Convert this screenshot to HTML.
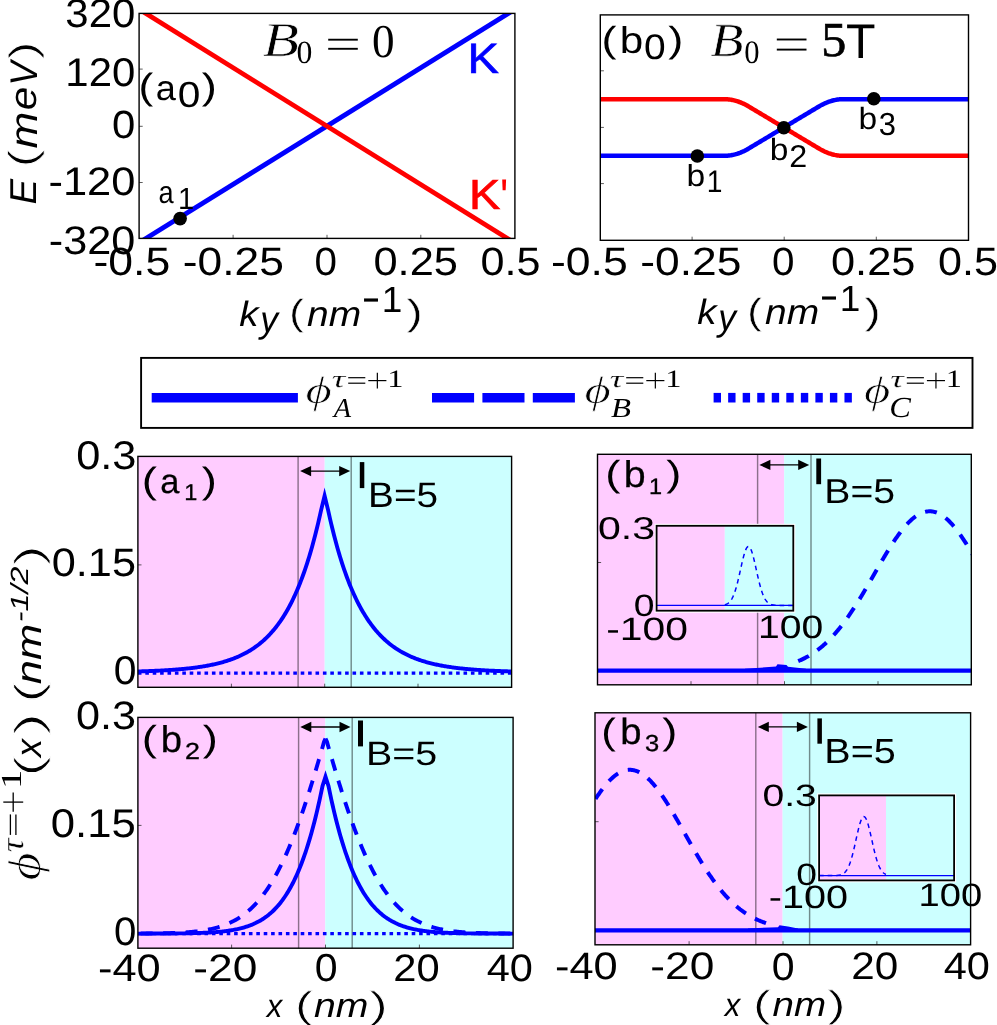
<!DOCTYPE html>
<html><head><meta charset="utf-8"><title>figure</title>
<style>
html,body{margin:0;padding:0;background:#fff;}
body{width:997px;height:1025px;overflow:hidden;font-family:"Liberation Sans",sans-serif;}
svg{display:block;will-change:transform;}
</style></head>
<body>
<svg width="997" height="1025" viewBox="0 0 997 1025" text-rendering="geometricPrecision">
<rect width="997" height="1025" fill="#fff"/>
<clipPath id="c1"><rect x="139.10" y="13.40" width="375.80" height="225.00"/></clipPath>
<line x1="134.00" y1="245.85" x2="520.30" y2="5.95" stroke="#0000ff" stroke-width="4.8" clip-path="url(#c1)"/>
<line x1="133.80" y1="5.93" x2="519.40" y2="245.87" stroke="#ff0000" stroke-width="4.8" clip-path="url(#c1)"/>
<line x1="233.10" y1="238.40" x2="233.10" y2="234.80" stroke="#333" stroke-width="0.8" />
<line x1="327.00" y1="238.40" x2="327.00" y2="234.80" stroke="#333" stroke-width="0.8" />
<line x1="420.80" y1="238.40" x2="420.80" y2="234.80" stroke="#333" stroke-width="0.8" />
<line x1="139.10" y1="69.10" x2="142.70" y2="69.10" stroke="#333" stroke-width="0.8" />
<line x1="139.10" y1="126.30" x2="142.70" y2="126.30" stroke="#333" stroke-width="0.8" />
<line x1="139.10" y1="182.50" x2="142.70" y2="182.50" stroke="#333" stroke-width="0.8" />
<rect x="139.10" y="13.40" width="375.80" height="225.00" fill="none" stroke="#000" stroke-width="1.4" />
<circle cx="180.1" cy="218.6" r="6.8" fill="#000"/>
<text transform="matrix(41.9497 0 0 40.1413 65.327 27.399)" font-family='"Liberation Sans", sans-serif' font-style="normal" font-size="1" fill="#000">320</text>
<text transform="matrix(41.9324 0 0 40.1413 65.355 86.399)" font-family='"Liberation Sans", sans-serif' font-style="normal" font-size="1" fill="#000">120</text>
<text transform="matrix(41.8848 0 0 39.2933 111.925 138.007)" font-family='"Liberation Sans", sans-serif' font-style="normal" font-size="1" fill="#000">0</text>
<text transform="matrix(43.4465 0 0 39.8587 48.445 195.201)" font-family='"Liberation Sans", sans-serif' font-style="normal" font-size="1" fill="#000">-120</text>
<text transform="matrix(43.2376 0 0 39.8587 48.854 253.901)" font-family='"Liberation Sans", sans-serif' font-style="normal" font-size="1" fill="#000">-320</text>
<text transform="matrix(44.5260 0 0 39.5760 93.496 275.404)" font-family='"Liberation Sans", sans-serif' font-style="normal" font-size="1" fill="#000">-0.5</text>
<text transform="matrix(44.3379 0 0 39.5760 182.805 275.404)" font-family='"Liberation Sans", sans-serif' font-style="normal" font-size="1" fill="#000">-0.25</text>
<text transform="matrix(40.4188 0 0 39.5760 314.383 275.404)" font-family='"Liberation Sans", sans-serif' font-style="normal" font-size="1" fill="#000">0</text>
<text transform="matrix(43.3826 0 0 39.5760 373.465 275.404)" font-family='"Liberation Sans", sans-serif' font-style="normal" font-size="1" fill="#000">0.25</text>
<text transform="matrix(43.1358 0 0 39.5760 480.575 275.404)" font-family='"Liberation Sans", sans-serif' font-style="normal" font-size="1" fill="#000">0.5</text>
<text transform="matrix(44.5260 0 0 39.5760 550.996 274.804)" font-family='"Liberation Sans", sans-serif' font-style="normal" font-size="1" fill="#000">-0.5</text>
<text transform="matrix(44.3379 0 0 39.5760 640.305 274.804)" font-family='"Liberation Sans", sans-serif' font-style="normal" font-size="1" fill="#000">-0.25</text>
<text transform="matrix(40.4188 0 0 39.5760 771.883 274.804)" font-family='"Liberation Sans", sans-serif' font-style="normal" font-size="1" fill="#000">0</text>
<text transform="matrix(43.3826 0 0 39.5760 830.965 274.804)" font-family='"Liberation Sans", sans-serif' font-style="normal" font-size="1" fill="#000">0.25</text>
<text transform="matrix(43.1358 0 0 39.5760 938.075 274.804)" font-family='"Liberation Sans", sans-serif' font-style="normal" font-size="1" fill="#000">0.5</text>
<text transform="matrix(38.4689 0 0 35.3103 239.327 325.700)" font-family='"Liberation Sans", sans-serif' font-style="italic" font-size="1" fill="#000">k</text>
<text transform="matrix(35.5556 0 0 36.8707 260.144 331.549)" font-family='"Liberation Sans", sans-serif' font-style="italic" font-size="1" fill="#000">y</text>
<text transform="matrix(43.4783 0 0 36.3933 289.222 325.267)" font-family='"Liberation Sans", sans-serif' font-style="normal" font-size="1" fill="#000" stroke="#fff" stroke-width="0.012">(</text>
<text transform="matrix(38.9434 0 0 35.3488 307.118 325.700)" font-family='"Liberation Sans", sans-serif' font-style="italic" font-size="1" fill="#000">nm</text>
<text transform="matrix(57.1429 0 0 41.2903 361.429 310.994)" font-family='"Liberation Sans", sans-serif' font-style="normal" font-size="1" fill="#000">-</text>
<text transform="matrix(36.9942 0 0 36.5091 381.725 312.100)" font-family='"Liberation Sans", sans-serif' font-style="normal" font-size="1" fill="#000">1</text>
<text transform="matrix(47.8261 0 0 36.3933 406.854 325.267)" font-family='"Liberation Sans", sans-serif' font-style="normal" font-size="1" fill="#000" stroke="#fff" stroke-width="0.012">)</text>
<text transform="matrix(38.4689 0 0 35.3103 697.327 324.200)" font-family='"Liberation Sans", sans-serif' font-style="italic" font-size="1" fill="#000">k</text>
<text transform="matrix(35.5556 0 0 36.8707 718.144 330.049)" font-family='"Liberation Sans", sans-serif' font-style="italic" font-size="1" fill="#000">y</text>
<text transform="matrix(43.4783 0 0 36.3933 747.222 323.767)" font-family='"Liberation Sans", sans-serif' font-style="normal" font-size="1" fill="#000" stroke="#fff" stroke-width="0.012">(</text>
<text transform="matrix(38.9434 0 0 35.3488 765.118 324.200)" font-family='"Liberation Sans", sans-serif' font-style="italic" font-size="1" fill="#000">nm</text>
<text transform="matrix(57.1429 0 0 41.2903 819.429 309.494)" font-family='"Liberation Sans", sans-serif' font-style="normal" font-size="1" fill="#000">-</text>
<text transform="matrix(36.9942 0 0 36.5091 839.725 310.600)" font-family='"Liberation Sans", sans-serif' font-style="normal" font-size="1" fill="#000">1</text>
<text transform="matrix(47.8261 0 0 36.3933 864.854 323.767)" font-family='"Liberation Sans", sans-serif' font-style="normal" font-size="1" fill="#000" stroke="#fff" stroke-width="0.012">)</text>
<text transform="matrix(0 -53.8776 38.4658 0 35.803 59.143)" font-family='"Liberation Sans", sans-serif' font-style="normal" font-size="1" fill="#000" stroke="#fff" stroke-width="0.02">)</text>
<text transform="matrix(0 -36.0456 38.5455 0 36.500 85.454)" font-family='"Liberation Sans", sans-serif' font-style="italic" font-size="1" fill="#000">V</text>
<text transform="matrix(0 -42.4615 37.8082 0 36.122 110.180)" font-family='"Liberation Sans", sans-serif' font-style="italic" font-size="1" fill="#000">e</text>
<text transform="matrix(0 -44.1558 38.5116 0 36.500 148.573)" font-family='"Liberation Sans", sans-serif' font-style="italic" font-size="1" fill="#000">m</text>
<text transform="matrix(0 -53.8776 39.3425 0 35.630 167.406)" font-family='"Liberation Sans", sans-serif' font-style="normal" font-size="1" fill="#000" stroke="#fff" stroke-width="0.02">(</text>
<text transform="matrix(0 -38.3012 37.3818 0 35.700 204.449)" font-family='"Liberation Sans", sans-serif' font-style="italic" font-size="1" fill="#000">E</text>
<text transform="matrix(59.3310 0 0 48.4895 262.651 56.270)" font-family='"Liberation Serif", serif' font-style="italic" font-size="1" fill="#000" stroke="#fff" stroke-width="0.012">B</text>
<text transform="matrix(31.7647 0 0 32.2963 296.609 63.077)" font-family='"Liberation Serif", serif' font-style="normal" font-size="1" fill="#000">0</text>
<line x1="328.20" y1="39.70" x2="357.80" y2="39.70" stroke="#000" stroke-width="1.9" />
<line x1="328.20" y1="48.80" x2="357.80" y2="48.80" stroke="#000" stroke-width="1.9" />
<text transform="matrix(45.1765 0 0 46.9630 371.906 56.830)" font-family='"Liberation Serif", serif' font-style="normal" font-size="1" fill="#000">0</text>
<text transform="matrix(44.1509 0 0 36.5684 138.441 99.312)" font-family='"Liberation Sans", sans-serif' font-style="normal" font-size="1" fill="#000">(</text>
<text transform="matrix(36.1165 0 0 35.2511 155.765 100.247)" font-family='"Liberation Sans", sans-serif' font-style="normal" font-size="1" fill="#000">a</text>
<text transform="matrix(40.6283 0 0 36.3251 177.675 106.937)" font-family='"Liberation Sans", sans-serif' font-style="normal" font-size="1" fill="#000">0</text>
<text transform="matrix(45.2830 0 0 36.5684 201.860 99.312)" font-family='"Liberation Sans", sans-serif' font-style="normal" font-size="1" fill="#000">)</text>
<text transform="matrix(46.9890 0 0 42.4414 467.623 72.639)" font-family='"Liberation Sans", sans-serif' font-style="normal" font-size="1" fill="#0000ff" stroke="#0000ff" stroke-width="0.017">K</text>
<text transform="matrix(46.8193 0 0 42.0156 468.935 209.243)" font-family='"Liberation Sans", sans-serif' font-style="normal" font-size="1" fill="#ff0000" stroke="#ff0000" stroke-width="0.017">K</text>
<text transform="matrix(43.3333 0 0 50.1149 499.933 214.354)" font-family='"Liberation Sans", sans-serif' font-style="normal" font-size="1" fill="#ff0000">'</text>
<text transform="matrix(27.1845 0 0 31.5982 158.445 202.784)" font-family='"Liberation Sans", sans-serif' font-style="normal" font-size="1" fill="#000">a</text>
<text transform="matrix(29.1329 0 0 30.6909 177.915 208.600)" font-family='"Liberation Sans", sans-serif' font-style="normal" font-size="1" fill="#000">1</text>
<clipPath id="c2"><rect x="600.30" y="14.90" width="368.20" height="225.40"/></clipPath>
<path d="M600.30,99.15 L601.22,99.15 L602.15,99.15 L603.07,99.15 L603.99,99.15 L604.91,99.15 L605.84,99.15 L606.76,99.15 L607.68,99.15 L608.61,99.15 L609.53,99.15 L610.45,99.15 L611.37,99.15 L612.30,99.15 L613.22,99.15 L614.14,99.15 L615.06,99.15 L615.99,99.15 L616.91,99.15 L617.83,99.15 L618.76,99.15 L619.68,99.15 L620.60,99.15 L621.52,99.15 L622.45,99.15 L623.37,99.15 L624.29,99.15 L625.22,99.15 L626.14,99.15 L627.06,99.15 L627.98,99.15 L628.91,99.15 L629.83,99.15 L630.75,99.15 L631.68,99.15 L632.60,99.15 L633.52,99.15 L634.44,99.15 L635.37,99.15 L636.29,99.15 L637.21,99.15 L638.14,99.15 L639.06,99.15 L639.98,99.15 L640.90,99.15 L641.83,99.15 L642.75,99.15 L643.67,99.15 L644.59,99.15 L645.52,99.15 L646.44,99.15 L647.36,99.15 L648.29,99.15 L649.21,99.15 L650.13,99.15 L651.05,99.15 L651.98,99.15 L652.90,99.15 L653.82,99.15 L654.75,99.15 L655.67,99.15 L656.59,99.15 L657.51,99.15 L658.44,99.15 L659.36,99.15 L660.28,99.15 L661.21,99.15 L662.13,99.15 L663.05,99.15 L663.97,99.15 L664.90,99.15 L665.82,99.15 L666.74,99.15 L667.66,99.15 L668.59,99.15 L669.51,99.15 L670.43,99.15 L671.36,99.15 L672.28,99.15 L673.20,99.15 L674.12,99.15 L675.05,99.15 L675.97,99.15 L676.89,99.15 L677.82,99.15 L678.74,99.15 L679.66,99.15 L680.58,99.15 L681.51,99.15 L682.43,99.15 L683.35,99.15 L684.28,99.15 L685.20,99.15 L686.12,99.15 L687.04,99.15 L687.97,99.15 L688.89,99.15 L689.81,99.15 L690.74,99.15 L691.66,99.15 L692.58,99.15 L693.50,99.15 L694.43,99.15 L695.35,99.15 L696.27,99.15 L697.19,99.15 L698.12,99.15 L699.04,99.15 L699.96,99.15 L700.89,99.15 L701.81,99.15 L702.73,99.15 L703.65,99.15 L704.58,99.15 L705.50,99.15 L706.42,99.15 L707.35,99.15 L708.27,99.15 L709.19,99.15 L710.11,99.15 L711.04,99.15 L711.96,99.15 L712.88,99.15 L713.81,99.15 L714.73,99.15 L715.65,99.15 L716.57,99.15 L717.50,99.15 L718.42,99.15 L719.34,99.15 L720.26,99.15 L721.19,99.15 L722.11,99.15 L723.03,99.15 L723.96,99.15 L724.88,99.16 L725.80,99.19 L726.72,99.23 L727.65,99.30 L728.57,99.39 L729.49,99.50 L730.42,99.63 L731.34,99.79 L732.26,99.96 L733.18,100.15 L734.11,100.37 L735.03,100.60 L735.95,100.86 L736.88,101.13 L737.80,101.43 L738.72,101.75 L739.64,102.08 L740.57,102.44 L741.49,102.82 L742.41,103.22 L743.34,103.64 L744.26,104.08 L745.18,104.55 L746.10,105.03 L747.03,105.53 L747.95,106.06 L748.87,106.60 L749.79,107.15 L750.72,107.71 L751.64,108.26 L752.56,108.81 L753.49,109.36 L754.41,109.91 L755.33,110.47 L756.25,111.02 L757.18,111.57 L758.10,112.12 L759.02,112.67 L759.95,113.23 L760.87,113.78 L761.79,114.33 L762.71,114.88 L763.64,115.44 L764.56,115.99 L765.48,116.54 L766.41,117.09 L767.33,117.64 L768.25,118.20 L769.17,118.75 L770.10,119.30 L771.02,119.85 L771.94,120.40 L772.86,120.96 L773.79,121.51 L774.71,122.06 L775.63,122.61 L776.56,123.17 L777.48,123.72 L778.40,124.27 L779.32,124.82 L780.25,125.37 L781.17,125.93 L782.09,126.48 L783.02,127.03 L783.94,127.58 L784.86,128.14 L785.78,128.69 L786.71,129.24 L787.63,129.79 L788.55,130.34 L789.48,130.90 L790.40,131.45 L791.32,132.00 L792.24,132.55 L793.17,133.10 L794.09,133.66 L795.01,134.21 L795.94,134.76 L796.86,135.31 L797.78,135.87 L798.70,136.42 L799.63,136.97 L800.55,137.52 L801.47,138.07 L802.39,138.63 L803.32,139.18 L804.24,139.73 L805.16,140.28 L806.09,140.83 L807.01,141.39 L807.93,141.94 L808.85,142.49 L809.78,143.04 L810.70,143.60 L811.62,144.15 L812.55,144.70 L813.47,145.25 L814.39,145.80 L815.31,146.36 L816.24,146.91 L817.16,147.46 L818.08,148.01 L819.01,148.56 L819.93,149.10 L820.85,149.62 L821.77,150.12 L822.70,150.59 L823.62,151.05 L824.54,151.49 L825.46,151.90 L826.39,152.29 L827.31,152.67 L828.23,153.02 L829.16,153.35 L830.08,153.66 L831.00,153.95 L831.92,154.22 L832.85,154.47 L833.77,154.70 L834.69,154.91 L835.62,155.10 L836.54,155.26 L837.46,155.41 L838.38,155.53 L839.31,155.64 L840.23,155.72 L841.15,155.78 L842.08,155.83 L843.00,155.85 L843.92,155.85 L844.84,155.85 L845.77,155.85 L846.69,155.85 L847.61,155.85 L848.54,155.85 L849.46,155.85 L850.38,155.85 L851.30,155.85 L852.23,155.85 L853.15,155.85 L854.07,155.85 L854.99,155.85 L855.92,155.85 L856.84,155.85 L857.76,155.85 L858.69,155.85 L859.61,155.85 L860.53,155.85 L861.45,155.85 L862.38,155.85 L863.30,155.85 L864.22,155.85 L865.15,155.85 L866.07,155.85 L866.99,155.85 L867.91,155.85 L868.84,155.85 L869.76,155.85 L870.68,155.85 L871.61,155.85 L872.53,155.85 L873.45,155.85 L874.37,155.85 L875.30,155.85 L876.22,155.85 L877.14,155.85 L878.06,155.85 L878.99,155.85 L879.91,155.85 L880.83,155.85 L881.76,155.85 L882.68,155.85 L883.60,155.85 L884.52,155.85 L885.45,155.85 L886.37,155.85 L887.29,155.85 L888.22,155.85 L889.14,155.85 L890.06,155.85 L890.98,155.85 L891.91,155.85 L892.83,155.85 L893.75,155.85 L894.68,155.85 L895.60,155.85 L896.52,155.85 L897.44,155.85 L898.37,155.85 L899.29,155.85 L900.21,155.85 L901.14,155.85 L902.06,155.85 L902.98,155.85 L903.90,155.85 L904.83,155.85 L905.75,155.85 L906.67,155.85 L907.59,155.85 L908.52,155.85 L909.44,155.85 L910.36,155.85 L911.29,155.85 L912.21,155.85 L913.13,155.85 L914.05,155.85 L914.98,155.85 L915.90,155.85 L916.82,155.85 L917.75,155.85 L918.67,155.85 L919.59,155.85 L920.51,155.85 L921.44,155.85 L922.36,155.85 L923.28,155.85 L924.21,155.85 L925.13,155.85 L926.05,155.85 L926.97,155.85 L927.90,155.85 L928.82,155.85 L929.74,155.85 L930.66,155.85 L931.59,155.85 L932.51,155.85 L933.43,155.85 L934.36,155.85 L935.28,155.85 L936.20,155.85 L937.12,155.85 L938.05,155.85 L938.97,155.85 L939.89,155.85 L940.82,155.85 L941.74,155.85 L942.66,155.85 L943.58,155.85 L944.51,155.85 L945.43,155.85 L946.35,155.85 L947.28,155.85 L948.20,155.85 L949.12,155.85 L950.04,155.85 L950.97,155.85 L951.89,155.85 L952.81,155.85 L953.74,155.85 L954.66,155.85 L955.58,155.85 L956.50,155.85 L957.43,155.85 L958.35,155.85 L959.27,155.85 L960.19,155.85 L961.12,155.85 L962.04,155.85 L962.96,155.85 L963.89,155.85 L964.81,155.85 L965.73,155.85 L966.65,155.85 L967.58,155.85 L968.50,155.85" fill="none" stroke="#ff0000" stroke-width="4.5" stroke-linejoin="round" clip-path="url(#c2)"/>
<path d="M600.30,155.85 L601.22,155.85 L602.15,155.85 L603.07,155.85 L603.99,155.85 L604.91,155.85 L605.84,155.85 L606.76,155.85 L607.68,155.85 L608.61,155.85 L609.53,155.85 L610.45,155.85 L611.37,155.85 L612.30,155.85 L613.22,155.85 L614.14,155.85 L615.06,155.85 L615.99,155.85 L616.91,155.85 L617.83,155.85 L618.76,155.85 L619.68,155.85 L620.60,155.85 L621.52,155.85 L622.45,155.85 L623.37,155.85 L624.29,155.85 L625.22,155.85 L626.14,155.85 L627.06,155.85 L627.98,155.85 L628.91,155.85 L629.83,155.85 L630.75,155.85 L631.68,155.85 L632.60,155.85 L633.52,155.85 L634.44,155.85 L635.37,155.85 L636.29,155.85 L637.21,155.85 L638.14,155.85 L639.06,155.85 L639.98,155.85 L640.90,155.85 L641.83,155.85 L642.75,155.85 L643.67,155.85 L644.59,155.85 L645.52,155.85 L646.44,155.85 L647.36,155.85 L648.29,155.85 L649.21,155.85 L650.13,155.85 L651.05,155.85 L651.98,155.85 L652.90,155.85 L653.82,155.85 L654.75,155.85 L655.67,155.85 L656.59,155.85 L657.51,155.85 L658.44,155.85 L659.36,155.85 L660.28,155.85 L661.21,155.85 L662.13,155.85 L663.05,155.85 L663.97,155.85 L664.90,155.85 L665.82,155.85 L666.74,155.85 L667.66,155.85 L668.59,155.85 L669.51,155.85 L670.43,155.85 L671.36,155.85 L672.28,155.85 L673.20,155.85 L674.12,155.85 L675.05,155.85 L675.97,155.85 L676.89,155.85 L677.82,155.85 L678.74,155.85 L679.66,155.85 L680.58,155.85 L681.51,155.85 L682.43,155.85 L683.35,155.85 L684.28,155.85 L685.20,155.85 L686.12,155.85 L687.04,155.85 L687.97,155.85 L688.89,155.85 L689.81,155.85 L690.74,155.85 L691.66,155.85 L692.58,155.85 L693.50,155.85 L694.43,155.85 L695.35,155.85 L696.27,155.85 L697.19,155.85 L698.12,155.85 L699.04,155.85 L699.96,155.85 L700.89,155.85 L701.81,155.85 L702.73,155.85 L703.65,155.85 L704.58,155.85 L705.50,155.85 L706.42,155.85 L707.35,155.85 L708.27,155.85 L709.19,155.85 L710.11,155.85 L711.04,155.85 L711.96,155.85 L712.88,155.85 L713.81,155.85 L714.73,155.85 L715.65,155.85 L716.57,155.85 L717.50,155.85 L718.42,155.85 L719.34,155.85 L720.26,155.85 L721.19,155.85 L722.11,155.85 L723.03,155.85 L723.96,155.85 L724.88,155.84 L725.80,155.81 L726.72,155.77 L727.65,155.70 L728.57,155.61 L729.49,155.50 L730.42,155.37 L731.34,155.21 L732.26,155.04 L733.18,154.85 L734.11,154.63 L735.03,154.40 L735.95,154.14 L736.88,153.87 L737.80,153.57 L738.72,153.25 L739.64,152.92 L740.57,152.56 L741.49,152.18 L742.41,151.78 L743.34,151.36 L744.26,150.92 L745.18,150.45 L746.10,149.97 L747.03,149.47 L747.95,148.94 L748.87,148.40 L749.79,147.85 L750.72,147.29 L751.64,146.74 L752.56,146.19 L753.49,145.64 L754.41,145.09 L755.33,144.53 L756.25,143.98 L757.18,143.43 L758.10,142.88 L759.02,142.33 L759.95,141.77 L760.87,141.22 L761.79,140.67 L762.71,140.12 L763.64,139.56 L764.56,139.01 L765.48,138.46 L766.41,137.91 L767.33,137.36 L768.25,136.80 L769.17,136.25 L770.10,135.70 L771.02,135.15 L771.94,134.60 L772.86,134.04 L773.79,133.49 L774.71,132.94 L775.63,132.39 L776.56,131.83 L777.48,131.28 L778.40,130.73 L779.32,130.18 L780.25,129.63 L781.17,129.07 L782.09,128.52 L783.02,127.97 L783.94,127.42 L784.86,126.86 L785.78,126.31 L786.71,125.76 L787.63,125.21 L788.55,124.66 L789.48,124.10 L790.40,123.55 L791.32,123.00 L792.24,122.45 L793.17,121.90 L794.09,121.34 L795.01,120.79 L795.94,120.24 L796.86,119.69 L797.78,119.13 L798.70,118.58 L799.63,118.03 L800.55,117.48 L801.47,116.93 L802.39,116.37 L803.32,115.82 L804.24,115.27 L805.16,114.72 L806.09,114.17 L807.01,113.61 L807.93,113.06 L808.85,112.51 L809.78,111.96 L810.70,111.40 L811.62,110.85 L812.55,110.30 L813.47,109.75 L814.39,109.20 L815.31,108.64 L816.24,108.09 L817.16,107.54 L818.08,106.99 L819.01,106.44 L819.93,105.90 L820.85,105.38 L821.77,104.88 L822.70,104.41 L823.62,103.95 L824.54,103.51 L825.46,103.10 L826.39,102.71 L827.31,102.33 L828.23,101.98 L829.16,101.65 L830.08,101.34 L831.00,101.05 L831.92,100.78 L832.85,100.53 L833.77,100.30 L834.69,100.09 L835.62,99.90 L836.54,99.74 L837.46,99.59 L838.38,99.47 L839.31,99.36 L840.23,99.28 L841.15,99.22 L842.08,99.17 L843.00,99.15 L843.92,99.15 L844.84,99.15 L845.77,99.15 L846.69,99.15 L847.61,99.15 L848.54,99.15 L849.46,99.15 L850.38,99.15 L851.30,99.15 L852.23,99.15 L853.15,99.15 L854.07,99.15 L854.99,99.15 L855.92,99.15 L856.84,99.15 L857.76,99.15 L858.69,99.15 L859.61,99.15 L860.53,99.15 L861.45,99.15 L862.38,99.15 L863.30,99.15 L864.22,99.15 L865.15,99.15 L866.07,99.15 L866.99,99.15 L867.91,99.15 L868.84,99.15 L869.76,99.15 L870.68,99.15 L871.61,99.15 L872.53,99.15 L873.45,99.15 L874.37,99.15 L875.30,99.15 L876.22,99.15 L877.14,99.15 L878.06,99.15 L878.99,99.15 L879.91,99.15 L880.83,99.15 L881.76,99.15 L882.68,99.15 L883.60,99.15 L884.52,99.15 L885.45,99.15 L886.37,99.15 L887.29,99.15 L888.22,99.15 L889.14,99.15 L890.06,99.15 L890.98,99.15 L891.91,99.15 L892.83,99.15 L893.75,99.15 L894.68,99.15 L895.60,99.15 L896.52,99.15 L897.44,99.15 L898.37,99.15 L899.29,99.15 L900.21,99.15 L901.14,99.15 L902.06,99.15 L902.98,99.15 L903.90,99.15 L904.83,99.15 L905.75,99.15 L906.67,99.15 L907.59,99.15 L908.52,99.15 L909.44,99.15 L910.36,99.15 L911.29,99.15 L912.21,99.15 L913.13,99.15 L914.05,99.15 L914.98,99.15 L915.90,99.15 L916.82,99.15 L917.75,99.15 L918.67,99.15 L919.59,99.15 L920.51,99.15 L921.44,99.15 L922.36,99.15 L923.28,99.15 L924.21,99.15 L925.13,99.15 L926.05,99.15 L926.97,99.15 L927.90,99.15 L928.82,99.15 L929.74,99.15 L930.66,99.15 L931.59,99.15 L932.51,99.15 L933.43,99.15 L934.36,99.15 L935.28,99.15 L936.20,99.15 L937.12,99.15 L938.05,99.15 L938.97,99.15 L939.89,99.15 L940.82,99.15 L941.74,99.15 L942.66,99.15 L943.58,99.15 L944.51,99.15 L945.43,99.15 L946.35,99.15 L947.28,99.15 L948.20,99.15 L949.12,99.15 L950.04,99.15 L950.97,99.15 L951.89,99.15 L952.81,99.15 L953.74,99.15 L954.66,99.15 L955.58,99.15 L956.50,99.15 L957.43,99.15 L958.35,99.15 L959.27,99.15 L960.19,99.15 L961.12,99.15 L962.04,99.15 L962.96,99.15 L963.89,99.15 L964.81,99.15 L965.73,99.15 L966.65,99.15 L967.58,99.15 L968.50,99.15" fill="none" stroke="#0000ff" stroke-width="4.5" stroke-linejoin="round" clip-path="url(#c2)"/>
<line x1="692.10" y1="240.30" x2="692.10" y2="236.70" stroke="#333" stroke-width="0.8" />
<line x1="784.20" y1="240.30" x2="784.20" y2="236.70" stroke="#333" stroke-width="0.8" />
<line x1="876.30" y1="240.30" x2="876.30" y2="236.70" stroke="#333" stroke-width="0.8" />
<line x1="600.30" y1="70.80" x2="603.90" y2="70.80" stroke="#333" stroke-width="0.8" />
<line x1="600.30" y1="127.40" x2="603.90" y2="127.40" stroke="#333" stroke-width="0.8" />
<line x1="600.30" y1="183.60" x2="603.90" y2="183.60" stroke="#333" stroke-width="0.8" />
<rect x="600.30" y="14.90" width="368.20" height="225.40" fill="none" stroke="#000" stroke-width="1.4" />
<circle cx="697.3" cy="156.0" r="6.8" fill="#000"/>
<circle cx="783.8" cy="127.8" r="6.8" fill="#000"/>
<circle cx="873.8" cy="98.7" r="6.8" fill="#000"/>
<text transform="matrix(33.5556 0 0 30.4762 686.619 185.995)" font-family='"Liberation Sans", sans-serif' font-style="normal" font-size="1" fill="#000">b</text>
<text transform="matrix(28.2081 0 0 31.1273 706.784 192.000)" font-family='"Liberation Sans", sans-serif' font-style="normal" font-size="1" fill="#000">1</text>
<text transform="matrix(33.5556 0 0 30.6122 769.819 160.294)" font-family='"Liberation Sans", sans-serif' font-style="normal" font-size="1" fill="#000">b</text>
<text transform="matrix(32.3077 0 0 31.5412 789.285 166.600)" font-family='"Liberation Sans", sans-serif' font-style="normal" font-size="1" fill="#000">2</text>
<text transform="matrix(33.5556 0 0 30.6122 858.619 128.794)" font-family='"Liberation Sans", sans-serif' font-style="normal" font-size="1" fill="#000">b</text>
<text transform="matrix(30.9474 0 0 31.9435 878.739 135.381)" font-family='"Liberation Sans", sans-serif' font-style="normal" font-size="1" fill="#000">3</text>
<text transform="matrix(44.9057 0 0 36.2466 601.393 51.779)" font-family='"Liberation Sans", sans-serif' font-style="normal" font-size="1" fill="#000">(</text>
<text transform="matrix(42.2222 0 0 37.2789 619.856 52.527)" font-family='"Liberation Sans", sans-serif' font-style="normal" font-size="1" fill="#000">b</text>
<text transform="matrix(38.9529 0 0 35.3357 644.042 59.247)" font-family='"Liberation Sans", sans-serif' font-style="normal" font-size="1" fill="#000">0</text>
<text transform="matrix(45.2830 0 0 36.2466 668.360 51.779)" font-family='"Liberation Sans", sans-serif' font-style="normal" font-size="1" fill="#000">)</text>
<text transform="matrix(54.0493 0 0 47.5600 710.535 55.966)" font-family='"Liberation Serif", serif' font-style="italic" font-size="1" fill="#000" stroke="#fff" stroke-width="0.012">B</text>
<text transform="matrix(30.5882 0 0 32.7407 744.353 62.873)" font-family='"Liberation Serif", serif' font-style="normal" font-size="1" fill="#000">0</text>
<line x1="776.80" y1="39.50" x2="806.50" y2="39.50" stroke="#000" stroke-width="1.9" />
<line x1="776.80" y1="49.60" x2="806.50" y2="49.60" stroke="#000" stroke-width="1.9" />
<text transform="matrix(50.1809 0 0 48.7445 821.216 55.720)" font-family='"Liberation Serif", serif' font-style="normal" font-size="1" fill="#000" stroke="#000" stroke-width="0.012">5</text>
<text transform="matrix(48.3186 0 0 48.7273 846.013 57.500)" font-family='"Liberation Sans", sans-serif' font-style="normal" font-size="1" fill="#000">T</text>
<rect x="141.10" y="357.90" width="831.40" height="70.00" fill="#fff" stroke="#000" stroke-width="1.9" />
<line x1="151.70" y1="397.70" x2="297.90" y2="397.70" stroke="#0000ff" stroke-width="9.6" />
<line x1="432.00" y1="397.70" x2="474.10" y2="397.70" stroke="#0000ff" stroke-width="9.6" />
<line x1="482.40" y1="397.70" x2="524.50" y2="397.70" stroke="#0000ff" stroke-width="9.6" />
<line x1="532.80" y1="397.70" x2="574.90" y2="397.70" stroke="#0000ff" stroke-width="9.6" />
<line x1="713.60" y1="397.70" x2="721.00" y2="397.70" stroke="#0000ff" stroke-width="9.6" />
<line x1="728.14" y1="397.70" x2="735.54" y2="397.70" stroke="#0000ff" stroke-width="9.6" />
<line x1="742.68" y1="397.70" x2="750.08" y2="397.70" stroke="#0000ff" stroke-width="9.6" />
<line x1="757.22" y1="397.70" x2="764.62" y2="397.70" stroke="#0000ff" stroke-width="9.6" />
<line x1="771.76" y1="397.70" x2="779.16" y2="397.70" stroke="#0000ff" stroke-width="9.6" />
<line x1="786.30" y1="397.70" x2="793.70" y2="397.70" stroke="#0000ff" stroke-width="9.6" />
<line x1="800.84" y1="397.70" x2="808.24" y2="397.70" stroke="#0000ff" stroke-width="9.6" />
<line x1="815.38" y1="397.70" x2="822.78" y2="397.70" stroke="#0000ff" stroke-width="9.6" />
<line x1="829.92" y1="397.70" x2="837.32" y2="397.70" stroke="#0000ff" stroke-width="9.6" />
<line x1="844.46" y1="397.70" x2="851.86" y2="397.70" stroke="#0000ff" stroke-width="9.6" />
<text transform="matrix(50.8251 0 0 38.2237 305.399 402.821)" font-family='"Liberation Serif", serif' font-style="italic" font-size="1" fill="#000" stroke="#fff" stroke-width="0.018">ϕ</text>
<text transform="matrix(37.4648 0 0 24.1304 331.770 386.979)" font-family='"Liberation Serif", serif' font-style="italic" font-size="1" fill="#000" stroke="#fff" stroke-width="0.01">τ</text>
<line x1="348.20" y1="377.70" x2="365.30" y2="377.70" stroke="#000" stroke-width="1.2" />
<line x1="348.20" y1="383.20" x2="365.30" y2="383.20" stroke="#000" stroke-width="1.2" />
<line x1="368.30" y1="380.60" x2="386.40" y2="380.60" stroke="#000" stroke-width="1.2" />
<line x1="377.35" y1="372.80" x2="377.35" y2="388.60" stroke="#000" stroke-width="1.2" />
<text transform="matrix(32.3404 0 0 25.0000 387.170 387.100)" font-family='"Liberation Serif", serif' font-style="normal" font-size="1" fill="#000">1</text>
<text transform="matrix(28.3582 0 0 27.2727 333.760 416.600)" font-family='"Liberation Serif", serif' font-style="italic" font-size="1" fill="#000">A</text>
<text transform="matrix(50.8251 0 0 38.2237 584.599 402.821)" font-family='"Liberation Serif", serif' font-style="italic" font-size="1" fill="#000" stroke="#fff" stroke-width="0.018">ϕ</text>
<text transform="matrix(37.4648 0 0 24.1304 609.770 386.979)" font-family='"Liberation Serif", serif' font-style="italic" font-size="1" fill="#000" stroke="#fff" stroke-width="0.01">τ</text>
<line x1="626.20" y1="377.70" x2="643.30" y2="377.70" stroke="#000" stroke-width="1.2" />
<line x1="626.20" y1="383.20" x2="643.30" y2="383.20" stroke="#000" stroke-width="1.2" />
<line x1="646.30" y1="380.60" x2="664.40" y2="380.60" stroke="#000" stroke-width="1.2" />
<line x1="655.35" y1="372.80" x2="655.35" y2="388.60" stroke="#000" stroke-width="1.2" />
<text transform="matrix(32.3404 0 0 25.0000 665.170 387.100)" font-family='"Liberation Serif", serif' font-style="normal" font-size="1" fill="#000">1</text>
<text transform="matrix(32.7586 0 0 27.3764 611.072 416.532)" font-family='"Liberation Serif", serif' font-style="italic" font-size="1" fill="#000">B</text>
<text transform="matrix(50.8251 0 0 38.2237 863.999 402.821)" font-family='"Liberation Serif", serif' font-style="italic" font-size="1" fill="#000" stroke="#fff" stroke-width="0.018">ϕ</text>
<text transform="matrix(37.4648 0 0 24.1304 890.370 386.979)" font-family='"Liberation Serif", serif' font-style="italic" font-size="1" fill="#000" stroke="#fff" stroke-width="0.01">τ</text>
<line x1="906.80" y1="377.70" x2="923.90" y2="377.70" stroke="#000" stroke-width="1.2" />
<line x1="906.80" y1="383.20" x2="923.90" y2="383.20" stroke="#000" stroke-width="1.2" />
<line x1="926.90" y1="380.60" x2="945.00" y2="380.60" stroke="#000" stroke-width="1.2" />
<line x1="935.95" y1="372.80" x2="935.95" y2="388.60" stroke="#000" stroke-width="1.2" />
<text transform="matrix(32.3404 0 0 25.0000 945.770 387.100)" font-family='"Liberation Serif", serif' font-style="normal" font-size="1" fill="#000">1</text>
<text transform="matrix(32.4498 0 0 28.9963 889.315 416.910)" font-family='"Liberation Serif", serif' font-style="italic" font-size="1" fill="#000">C</text>
<rect x="137.90" y="456.40" width="186.80" height="230.90" fill="#ffccff" stroke="none" stroke-width="1.0" />
<rect x="324.70" y="456.40" width="186.90" height="230.90" fill="#ccffff" stroke="none" stroke-width="1.0" />
<line x1="298.10" y1="456.40" x2="298.10" y2="687.30" stroke="rgba(0,0,0,0.45)" stroke-width="1.45" />
<line x1="351.20" y1="456.40" x2="351.20" y2="687.30" stroke="rgba(0,0,0,0.45)" stroke-width="1.45" />
<line x1="306.10" y1="471.10" x2="344.20" y2="471.10" stroke="#000" stroke-width="1.3" />
<path d="M300.10,471.10 l11.0,-5.2 v10.4 z" fill="#000"/>
<path d="M350.20,471.10 l-11.0,-5.2 v10.4 z" fill="#000"/>
<clipPath id="c3"><rect x="137.90" y="456.40" width="373.70" height="230.90"/></clipPath>
<line x1="137.90" y1="673.10" x2="511.60" y2="673.10" stroke="#0000ff" stroke-width="3.4" stroke-dasharray="3.6 3.8" clip-path="url(#c3)"/>
<path d="M125.10,671.78 L126.10,671.76 L127.10,671.74 L128.10,671.71 L129.10,671.69 L130.10,671.66 L131.10,671.64 L132.10,671.61 L133.10,671.59 L134.10,671.56 L135.10,671.53 L136.10,671.51 L137.10,671.48 L138.10,671.45 L139.10,671.42 L140.10,671.39 L141.10,671.36 L142.10,671.32 L143.10,671.29 L144.10,671.26 L145.10,671.22 L146.10,671.19 L147.10,671.15 L148.10,671.11 L149.10,671.07 L150.10,671.03 L151.10,670.99 L152.10,670.95 L153.10,670.91 L154.10,670.86 L155.10,670.82 L156.10,670.77 L157.10,670.73 L158.10,670.68 L159.10,670.63 L160.10,670.58 L161.10,670.52 L162.10,670.47 L163.10,670.41 L164.10,670.36 L165.10,670.30 L166.10,670.24 L167.10,670.18 L168.10,670.11 L169.10,670.05 L170.10,669.98 L171.10,669.91 L172.10,669.84 L173.10,669.77 L174.10,669.70 L175.10,669.62 L176.10,669.54 L177.10,669.46 L178.10,669.38 L179.10,669.30 L180.10,669.21 L181.10,669.12 L182.10,669.03 L183.10,668.94 L184.10,668.84 L185.10,668.74 L186.10,668.64 L187.10,668.53 L188.10,668.43 L189.10,668.32 L190.10,668.20 L191.10,668.08 L192.10,667.96 L193.10,667.84 L194.10,667.71 L195.10,667.58 L196.10,667.45 L197.10,667.31 L198.10,667.17 L199.10,667.03 L200.10,666.88 L201.10,666.72 L202.10,666.57 L203.10,666.40 L204.10,666.24 L205.10,666.07 L206.10,665.89 L207.10,665.71 L208.10,665.52 L209.10,665.33 L210.10,665.13 L211.10,664.93 L212.10,664.72 L213.10,664.51 L214.10,664.29 L215.10,664.07 L216.10,663.83 L217.10,663.59 L218.10,663.35 L219.10,663.10 L220.10,662.84 L221.10,662.57 L222.10,662.30 L223.10,662.01 L224.10,661.72 L225.10,661.42 L226.10,661.12 L227.10,660.80 L228.10,660.48 L229.10,660.14 L230.10,659.80 L231.10,659.45 L232.10,659.08 L233.10,658.71 L234.10,658.33 L235.10,657.93 L236.10,657.53 L237.10,657.11 L238.10,656.68 L239.10,656.24 L240.10,655.78 L241.10,655.31 L242.10,654.83 L243.10,654.34 L244.10,653.83 L245.10,653.31 L246.10,652.77 L247.10,652.21 L248.10,651.64 L249.10,651.06 L250.10,650.46 L251.10,649.84 L252.10,649.20 L253.10,648.54 L254.10,647.87 L255.10,647.17 L256.10,646.46 L257.10,645.72 L258.10,644.97 L259.10,644.19 L260.10,643.39 L261.10,642.57 L262.10,641.72 L263.10,640.85 L264.10,639.96 L265.10,639.03 L266.10,638.09 L267.10,637.11 L268.10,636.11 L269.10,635.07 L270.10,634.01 L271.10,632.92 L272.10,631.79 L273.10,630.64 L274.10,629.45 L275.10,628.22 L276.10,626.96 L277.10,625.67 L278.10,624.33 L279.10,622.96 L280.10,621.55 L281.10,620.10 L282.10,618.60 L283.10,617.07 L284.10,615.48 L285.10,613.86 L286.10,612.18 L287.10,610.46 L288.10,608.69 L289.10,606.86 L290.10,604.98 L291.10,603.05 L292.10,601.07 L293.10,599.02 L294.10,596.92 L295.10,594.75 L296.10,592.53 L297.10,590.23 L298.10,587.88 L299.10,585.45 L300.10,582.95 L301.10,580.38 L302.10,577.74 L303.10,575.02 L304.10,572.22 L305.10,569.34 L306.10,566.38 L307.10,563.33 L308.10,560.19 L309.10,556.97 L310.10,553.64 L311.10,550.23 L312.10,546.71 L313.10,543.09 L314.10,539.36 L315.10,535.53 L316.10,531.59 L317.10,527.53 L318.10,523.36 L319.10,519.06 L320.10,514.64 L321.10,510.09 L324.60,495.70 L328.10,510.09 L329.10,514.64 L330.10,519.06 L331.10,523.36 L332.10,527.53 L333.10,531.59 L334.10,535.53 L335.10,539.36 L336.10,543.09 L337.10,546.71 L338.10,550.23 L339.10,553.64 L340.10,556.97 L341.10,560.19 L342.10,563.33 L343.10,566.38 L344.10,569.34 L345.10,572.22 L346.10,575.02 L347.10,577.74 L348.10,580.38 L349.10,582.95 L350.10,585.45 L351.10,587.88 L352.10,590.23 L353.10,592.53 L354.10,594.75 L355.10,596.92 L356.10,599.02 L357.10,601.07 L358.10,603.05 L359.10,604.98 L360.10,606.86 L361.10,608.69 L362.10,610.46 L363.10,612.18 L364.10,613.86 L365.10,615.48 L366.10,617.07 L367.10,618.60 L368.10,620.10 L369.10,621.55 L370.10,622.96 L371.10,624.33 L372.10,625.67 L373.10,626.96 L374.10,628.22 L375.10,629.45 L376.10,630.64 L377.10,631.79 L378.10,632.92 L379.10,634.01 L380.10,635.07 L381.10,636.11 L382.10,637.11 L383.10,638.09 L384.10,639.03 L385.10,639.96 L386.10,640.85 L387.10,641.72 L388.10,642.57 L389.10,643.39 L390.10,644.19 L391.10,644.97 L392.10,645.72 L393.10,646.46 L394.10,647.17 L395.10,647.87 L396.10,648.54 L397.10,649.20 L398.10,649.84 L399.10,650.46 L400.10,651.06 L401.10,651.64 L402.10,652.21 L403.10,652.77 L404.10,653.31 L405.10,653.83 L406.10,654.34 L407.10,654.83 L408.10,655.31 L409.10,655.78 L410.10,656.24 L411.10,656.68 L412.10,657.11 L413.10,657.53 L414.10,657.93 L415.10,658.33 L416.10,658.71 L417.10,659.08 L418.10,659.45 L419.10,659.80 L420.10,660.14 L421.10,660.48 L422.10,660.80 L423.10,661.12 L424.10,661.42 L425.10,661.72 L426.10,662.01 L427.10,662.30 L428.10,662.57 L429.10,662.84 L430.10,663.10 L431.10,663.35 L432.10,663.59 L433.10,663.83 L434.10,664.07 L435.10,664.29 L436.10,664.51 L437.10,664.72 L438.10,664.93 L439.10,665.13 L440.10,665.33 L441.10,665.52 L442.10,665.71 L443.10,665.89 L444.10,666.07 L445.10,666.24 L446.10,666.40 L447.10,666.57 L448.10,666.72 L449.10,666.88 L450.10,667.03 L451.10,667.17 L452.10,667.31 L453.10,667.45 L454.10,667.58 L455.10,667.71 L456.10,667.84 L457.10,667.96 L458.10,668.08 L459.10,668.20 L460.10,668.32 L461.10,668.43 L462.10,668.53 L463.10,668.64 L464.10,668.74 L465.10,668.84 L466.10,668.94 L467.10,669.03 L468.10,669.12 L469.10,669.21 L470.10,669.30 L471.10,669.38 L472.10,669.46 L473.10,669.54 L474.10,669.62 L475.10,669.70 L476.10,669.77 L477.10,669.84 L478.10,669.91 L479.10,669.98 L480.10,670.05 L481.10,670.11 L482.10,670.18 L483.10,670.24 L484.10,670.30 L485.10,670.36 L486.10,670.41 L487.10,670.47 L488.10,670.52 L489.10,670.58 L490.10,670.63 L491.10,670.68 L492.10,670.73 L493.10,670.77 L494.10,670.82 L495.10,670.86 L496.10,670.91 L497.10,670.95 L498.10,670.99 L499.10,671.03 L500.10,671.07 L501.10,671.11 L502.10,671.15 L503.10,671.19 L504.10,671.22 L505.10,671.26 L506.10,671.29 L507.10,671.32 L508.10,671.36 L509.10,671.39 L510.10,671.42 L511.10,671.45 L512.10,671.48 L513.10,671.51 L514.10,671.53 L515.10,671.56 L516.10,671.59 L517.10,671.61 L518.10,671.64 L519.10,671.66 L520.10,671.69 L521.10,671.71 L522.10,671.74 L523.10,671.76 L524.10,671.78" fill="none" stroke="#0000ff" stroke-width="3.9" stroke-linejoin="miter" stroke-miterlimit="10" clip-path="url(#c3)"/>
<line x1="231.40" y1="687.30" x2="231.40" y2="683.70" stroke="#333" stroke-width="0.8" />
<line x1="324.70" y1="687.30" x2="324.70" y2="683.70" stroke="#333" stroke-width="0.8" />
<line x1="418.00" y1="687.30" x2="418.00" y2="683.70" stroke="#333" stroke-width="0.8" />
<line x1="137.90" y1="564.90" x2="141.50" y2="564.90" stroke="#333" stroke-width="0.8" />
<rect x="137.90" y="456.40" width="373.70" height="230.90" fill="none" stroke="#000" stroke-width="1.4" />
<text transform="matrix(45.6604 0 0 36.5684 141.646 493.012)" font-family='"Liberation Sans", sans-serif' font-style="normal" font-size="1" fill="#000">(</text>
<text transform="matrix(34.4828 0 0 34.2651 160.255 493.137)" font-family='"Liberation Sans", sans-serif' font-style="normal" font-size="1" fill="#000" stroke="#000" stroke-width="0.007">a</text>
<text transform="matrix(23.5162 0 0 22.8083 184.301 500.440)" font-family='"Liberation Sans", sans-serif' font-style="normal" font-size="1" fill="#000" stroke="#000" stroke-width="0.014">1</text>
<text transform="matrix(45.2830 0 0 36.5684 201.860 493.012)" font-family='"Liberation Sans", sans-serif' font-style="normal" font-size="1" fill="#000">)</text>
<rect x="359.80" y="462.10" width="4.50" height="26.00" fill="#000" stroke="none" stroke-width="1.0" />
<text transform="matrix(38.6944 0 0 35.4122 368.108 507.446)" font-family='"Liberation Sans", sans-serif' font-style="normal" font-size="1" fill="#000">B=5</text>
<rect x="597.50" y="454.30" width="186.70" height="230.50" fill="#ffccff" stroke="none" stroke-width="1.0" />
<rect x="784.20" y="454.30" width="187.10" height="230.50" fill="#ccffff" stroke="none" stroke-width="1.0" />
<line x1="757.60" y1="454.30" x2="757.60" y2="684.80" stroke="rgba(0,0,0,0.45)" stroke-width="1.45" />
<line x1="811.00" y1="454.30" x2="811.00" y2="684.80" stroke="rgba(0,0,0,0.45)" stroke-width="1.45" />
<line x1="765.40" y1="464.90" x2="803.20" y2="464.90" stroke="#000" stroke-width="1.3" />
<path d="M759.40,464.90 l11.0,-5.2 v10.4 z" fill="#000"/>
<path d="M809.20,464.90 l-11.0,-5.2 v10.4 z" fill="#000"/>
<clipPath id="c4"><rect x="597.50" y="454.30" width="373.80" height="230.50"/></clipPath>
<line x1="597.50" y1="670.70" x2="971.30" y2="670.70" stroke="#0000ff" stroke-width="4.3" clip-path="url(#c4)"/>
<path d="M798.20,661.12 L798.70,660.91 L799.20,660.70 L799.70,660.48 L800.20,660.27 L800.70,660.05 L801.20,659.82 L801.70,659.59 L802.20,659.36 L802.70,659.12 L803.20,658.88 L803.70,658.64 L804.20,658.39 L804.70,658.13 L805.20,657.88 L805.70,657.61 L806.20,657.35 L806.70,657.08 L807.20,656.80 L807.70,656.53 L808.20,656.24 L808.70,655.96 L809.20,655.66 L809.70,655.37 L810.20,655.07 L810.70,654.76 L811.20,654.45 L811.70,654.13 L812.20,653.81 L812.70,653.49 L813.20,653.16 L813.70,652.82 L814.20,652.49 L814.70,652.14 L815.20,651.79 L815.70,651.44 L816.20,651.08 L816.70,650.71 L817.20,650.34 L817.70,649.97 L818.20,649.59 L818.70,649.21 L819.20,648.81 L819.70,648.42 L820.20,648.02 L820.70,647.61 L821.20,647.20 L821.70,646.78 L822.20,646.36 L822.70,645.93 L823.20,645.50 L823.70,645.06 L824.20,644.62 L824.70,644.17 L825.20,643.71 L825.70,643.25 L826.20,642.78 L826.70,642.31 L827.20,641.83 L827.70,641.35 L828.20,640.86 L828.70,640.37 L829.20,639.87 L829.70,639.36 L830.20,638.85 L830.70,638.33 L831.20,637.81 L831.70,637.28 L832.20,636.74 L832.70,636.20 L833.20,635.65 L833.70,635.10 L834.20,634.54 L834.70,633.98 L835.20,633.41 L835.70,632.83 L836.20,632.25 L836.70,631.67 L837.20,631.07 L837.70,630.47 L838.20,629.87 L838.70,629.26 L839.20,628.64 L839.70,628.02 L840.20,627.40 L840.70,626.76 L841.20,626.12 L841.70,625.48 L842.20,624.83 L842.70,624.18 L843.20,623.52 L843.70,622.85 L844.20,622.18 L844.70,621.50 L845.20,620.82 L845.70,620.13 L846.20,619.44 L846.70,618.74 L847.20,618.04 L847.70,617.33 L848.20,616.61 L848.70,615.90 L849.20,615.17 L849.70,614.44 L850.20,613.71 L850.70,612.97 L851.20,612.23 L851.70,611.48 L852.20,610.72 L852.70,609.97 L853.20,609.20 L853.70,608.44 L854.20,607.67 L854.70,606.89 L855.20,606.11 L855.70,605.33 L856.20,604.54 L856.70,603.75 L857.20,602.95 L857.70,602.15 L858.20,601.34 L858.70,600.54 L859.20,599.72 L859.70,598.91 L860.20,598.09 L860.70,597.27 L861.20,596.44 L861.70,595.62 L862.20,594.78 L862.70,593.95 L863.20,593.11 L863.70,592.27 L864.20,591.43 L864.70,590.58 L865.20,589.74 L865.70,588.89 L866.20,588.03 L866.70,587.18 L867.20,586.32 L867.70,585.46 L868.20,584.60 L868.70,583.74 L869.20,582.88 L869.70,582.01 L870.20,581.15 L870.70,580.28 L871.20,579.41 L871.70,578.54 L872.20,577.68 L872.70,576.81 L873.20,575.93 L873.70,575.06 L874.20,574.19 L874.70,573.32 L875.20,572.45 L875.70,571.58 L876.20,570.71 L876.70,569.84 L877.20,568.97 L877.70,568.10 L878.20,567.24 L878.70,566.37 L879.20,565.51 L879.70,564.64 L880.20,563.78 L880.70,562.92 L881.20,562.06 L881.70,561.21 L882.20,560.35 L882.70,559.50 L883.20,558.65 L883.70,557.81 L884.20,556.96 L884.70,556.12 L885.20,555.29 L885.70,554.45 L886.20,553.62 L886.70,552.79 L887.20,551.97 L887.70,551.15 L888.20,550.34 L888.70,549.53 L889.20,548.72 L889.70,547.92 L890.20,547.12 L890.70,546.33 L891.20,545.54 L891.70,544.76 L892.20,543.99 L892.70,543.22 L893.20,542.45 L893.70,541.69 L894.20,540.94 L894.70,540.19 L895.20,539.45 L895.70,538.72 L896.20,537.99 L896.70,537.27 L897.20,536.56 L897.70,535.85 L898.20,535.15 L898.70,534.46 L899.20,533.78 L899.70,533.10 L900.20,532.43 L900.70,531.77 L901.20,531.12 L901.70,530.48 L902.20,529.84 L902.70,529.21 L903.20,528.60 L903.70,527.99 L904.20,527.39 L904.70,526.80 L905.20,526.21 L905.70,525.64 L906.20,525.08 L906.70,524.53 L907.20,523.98 L907.70,523.45 L908.20,522.93 L908.70,522.41 L909.20,521.91 L909.70,521.42 L910.20,520.94 L910.70,520.47 L911.20,520.00 L911.70,519.56 L912.20,519.12 L912.70,518.69 L913.20,518.27 L913.70,517.87 L914.20,517.47 L914.70,517.09 L915.20,516.72 L915.70,516.36 L916.20,516.01 L916.70,515.68 L917.20,515.36 L917.70,515.04 L918.20,514.74 L918.70,514.46 L919.20,514.18 L919.70,513.92 L920.20,513.67 L920.70,513.43 L921.20,513.20 L921.70,512.99 L922.20,512.79 L922.70,512.60 L923.20,512.42 L923.70,512.26 L924.20,512.11 L924.70,511.97 L925.20,511.85 L925.70,511.73 L926.20,511.63 L926.70,511.55 L927.20,511.47 L927.70,511.41 L928.20,511.37 L928.70,511.33 L929.20,511.31 L929.70,511.30 L930.20,511.30 L930.70,511.32 L931.20,511.35 L931.70,511.40 L932.20,511.46 L932.70,511.53 L933.20,511.62 L933.70,511.72 L934.20,511.83 L934.70,511.95 L935.20,512.10 L935.70,512.25 L936.20,512.42 L936.70,512.60 L937.20,512.79 L937.70,513.00 L938.20,513.22 L938.70,513.45 L939.20,513.70 L939.70,513.96 L940.20,514.23 L940.70,514.51 L941.20,514.81 L941.70,515.12 L942.20,515.45 L942.70,515.78 L943.20,516.13 L943.70,516.49 L944.20,516.87 L944.70,517.25 L945.20,517.65 L945.70,518.06 L946.20,518.48 L946.70,518.92 L947.20,519.36 L947.70,519.82 L948.20,520.29 L948.70,520.77 L949.20,521.26 L949.70,521.76 L950.20,522.28 L950.70,522.80 L951.20,523.34 L951.70,523.88 L952.20,524.44 L952.70,525.01 L953.20,525.58 L953.70,526.17 L954.20,526.77 L954.70,527.38 L955.20,527.99 L955.70,528.62 L956.20,529.26 L956.70,529.90 L957.20,530.55 L957.70,531.22 L958.20,531.89 L958.70,532.57 L959.20,533.26 L959.70,533.95 L960.20,534.66 L960.70,535.37 L961.20,536.09 L961.70,536.82 L962.20,537.56 L962.70,538.30 L963.20,539.05 L963.70,539.81 L964.20,540.57 L964.70,541.34 L965.20,542.12 L965.70,542.91 L966.20,543.69 L966.70,544.49 L967.20,545.29 L967.70,546.10 L968.20,546.91 L968.70,547.73 L969.20,548.55 L969.70,549.38 L970.20,550.21 L970.70,551.05 L971.20,551.89 L971.70,552.74 L972.20,553.58 L972.70,554.44 L973.20,555.30 L973.70,556.16 L974.20,557.02" fill="none" stroke="#0000ff" stroke-width="4.0" stroke-linejoin="round" stroke-dasharray="11.88 10.32" clip-path="url(#c4)"/>
<path d="M745,672 L745,668.7 L776,666.6 L777.5,664.2 L786.5,665.0 L788,666.8 L806,668.7 L806,672 z" fill="#0000ff"/>
<line x1="691.00" y1="684.80" x2="691.00" y2="681.20" stroke="#333" stroke-width="0.8" />
<line x1="784.50" y1="684.80" x2="784.50" y2="681.20" stroke="#333" stroke-width="0.8" />
<line x1="878.00" y1="684.80" x2="878.00" y2="681.20" stroke="#333" stroke-width="0.8" />
<line x1="597.50" y1="562.50" x2="601.10" y2="562.50" stroke="#333" stroke-width="0.8" />
<rect x="597.50" y="454.30" width="373.80" height="230.50" fill="none" stroke="#000" stroke-width="1.4" />
<text transform="matrix(45.6604 0 0 36.2466 605.146 486.279)" font-family='"Liberation Sans", sans-serif' font-style="normal" font-size="1" fill="#000">(</text>
<text transform="matrix(39.3873 0 0 37.1968 623.678 487.098)" font-family='"Liberation Sans", sans-serif' font-style="normal" font-size="1" fill="#000" stroke="#000" stroke-width="0.007">b</text>
<text transform="matrix(23.5162 0 0 22.3806 649.101 493.643)" font-family='"Liberation Sans", sans-serif' font-style="normal" font-size="1" fill="#000" stroke="#000" stroke-width="0.014">1</text>
<text transform="matrix(45.2830 0 0 36.2466 666.360 486.279)" font-family='"Liberation Sans", sans-serif' font-style="normal" font-size="1" fill="#000">)</text>
<rect x="816.30" y="458.50" width="4.80" height="25.70" fill="#000" stroke="none" stroke-width="1.0" />
<text transform="matrix(39.1691 0 0 34.5520 824.269 503.454)" font-family='"Liberation Sans", sans-serif' font-style="normal" font-size="1" fill="#000">B=5</text>
<rect x="654.60" y="523.80" width="140.70" height="88.90" fill="#fff" stroke="none" stroke-width="1.0" />
<rect x="656.60" y="525.80" width="68.20" height="84.90" fill="#ffccff" stroke="none" stroke-width="1.0" />
<rect x="724.80" y="525.80" width="68.50" height="84.90" fill="#ccffff" stroke="none" stroke-width="1.0" />
<clipPath id="c5"><rect x="656.60" y="525.80" width="136.70" height="84.90"/></clipPath>
<path d="M724.80,604.72 L725.14,604.63 L725.49,604.52 L725.83,604.40 L726.18,604.27 L726.52,604.13 L726.87,603.97 L727.21,603.79 L727.55,603.59 L727.90,603.37 L728.24,603.13 L728.59,602.86 L728.93,602.57 L729.27,602.26 L729.62,601.91 L729.96,601.53 L730.31,601.12 L730.65,600.68 L731.00,600.20 L731.34,599.68 L731.68,599.12 L732.03,598.52 L732.37,597.88 L732.72,597.19 L733.06,596.46 L733.41,595.68 L733.75,594.85 L734.09,593.97 L734.44,593.04 L734.78,592.07 L735.13,591.04 L735.47,589.97 L735.82,588.84 L736.16,587.67 L736.50,586.45 L736.85,585.18 L737.19,583.87 L737.54,582.52 L737.88,581.13 L738.22,579.70 L738.57,578.25 L738.91,576.76 L739.26,575.25 L739.60,573.72 L739.95,572.18 L740.29,570.62 L740.63,569.07 L740.98,567.51 L741.32,565.97 L741.67,564.44 L742.01,562.93 L742.36,561.45 L742.70,560.00 L743.04,558.59 L743.39,557.24 L743.73,555.93 L744.08,554.69 L744.42,553.52 L744.76,552.42 L745.11,551.40 L745.45,550.46 L745.80,549.61 L746.14,548.86 L746.49,548.20 L746.83,547.65 L747.17,547.20 L747.52,546.87 L747.86,546.64 L748.21,546.52 L748.55,546.51 L748.90,546.62 L749.24,546.83 L749.58,547.16 L749.93,547.59 L750.27,548.13 L750.62,548.77 L750.96,549.51 L751.31,550.35 L751.65,551.28 L751.99,552.29 L752.34,553.38 L752.68,554.55 L753.03,555.78 L753.37,557.08 L753.71,558.43 L754.06,559.83 L754.40,561.27 L754.75,562.75 L755.09,564.25 L755.44,565.78 L755.78,567.33 L756.12,568.88 L756.47,570.44 L756.81,571.99 L757.16,573.54 L757.50,575.07 L757.85,576.58 L758.19,578.07 L758.53,579.53 L758.88,580.96 L759.22,582.35 L759.57,583.71 L759.91,585.02 L760.25,586.30 L760.60,587.52 L760.94,588.70 L761.29,589.83 L761.63,590.91 L761.98,591.95 L762.32,592.93 L762.66,593.86 L763.01,594.74 L763.35,595.58 L763.70,596.36 L764.04,597.10 L764.39,597.80 L764.73,598.44 L765.07,599.05 L765.42,599.61 L765.76,600.14 L766.11,600.62 L766.45,601.07 L766.79,601.48 L767.14,601.87 L767.48,602.22 L767.83,602.54 L768.17,602.83 L768.52,603.10 L768.86,603.34 L769.20,603.56 L769.55,603.76 L769.89,603.95 L770.24,604.11 L770.58,604.26 L770.93,604.39 L771.27,604.51 L771.61,604.61 L771.96,604.71 L772.30,604.79 L772.65,604.87 L772.99,604.94 L773.34,605.00 L773.68,605.05 L774.02,605.09 L774.37,605.13 L774.71,605.17 L775.06,605.20 L775.40,605.23 L775.74,605.25 L776.09,605.27 L776.43,605.29 L776.78,605.31 L777.12,605.32 L777.47,605.33 L777.81,605.34 L778.15,605.35 L778.50,605.36 L778.84,605.36 L779.19,605.37 L779.53,605.37 L779.88,605.38 L780.22,605.38 L780.56,605.39 L780.91,605.39 L781.25,605.39 L781.60,605.39 L781.94,605.39 L782.28,605.39 L782.63,605.40 L782.97,605.40 L783.32,605.40 L783.66,605.40 L784.01,605.40 L784.35,605.40 L784.69,605.40 L785.04,605.40 L785.38,605.40 L785.73,605.40 L786.07,605.40 L786.42,605.40 L786.76,605.40 L787.10,605.40 L787.45,605.40 L787.79,605.40 L788.14,605.40 L788.48,605.40 L788.83,605.40 L789.17,605.40 L789.51,605.40 L789.86,605.40 L790.20,605.40 L790.55,605.40 L790.89,605.40 L791.23,605.40 L791.58,605.40 L791.92,605.40 L792.27,605.40 L792.61,605.40 L792.96,605.40 L793.30,605.40" fill="none" stroke="#0000ff" stroke-width="1.5" stroke-linejoin="round" stroke-dasharray="4.6 4.0" clip-path="url(#c5)"/>
<line x1="656.60" y1="605.40" x2="793.30" y2="605.40" stroke="#0000ff" stroke-width="1.4" />
<rect x="656.60" y="525.80" width="136.70" height="84.90" fill="none" stroke="#000" stroke-width="1.8" />
<text transform="matrix(40.9962 0 0 31.6608 597.960 539.383)" font-family='"Liberation Sans", sans-serif' font-style="normal" font-size="1" fill="#000">0.3</text>
<text transform="matrix(37.2775 0 0 30.6714 633.809 615.993)" font-family='"Liberation Sans", sans-serif' font-style="normal" font-size="1" fill="#000">0</text>
<text transform="matrix(40.8355 0 0 32.2261 606.262 640.478)" font-family='"Liberation Sans", sans-serif' font-style="normal" font-size="1" fill="#000">-100</text>
<text transform="matrix(39.0982 0 0 32.2261 757.968 638.078)" font-family='"Liberation Sans", sans-serif' font-style="normal" font-size="1" fill="#000">100</text>
<rect x="137.90" y="717.40" width="187.40" height="230.80" fill="#ffccff" stroke="none" stroke-width="1.0" />
<rect x="325.30" y="717.40" width="187.80" height="230.80" fill="#ccffff" stroke="none" stroke-width="1.0" />
<line x1="298.60" y1="717.40" x2="298.60" y2="948.20" stroke="rgba(0,0,0,0.45)" stroke-width="1.45" />
<line x1="352.20" y1="717.40" x2="352.20" y2="948.20" stroke="rgba(0,0,0,0.45)" stroke-width="1.45" />
<line x1="306.30" y1="727.00" x2="344.50" y2="727.00" stroke="#000" stroke-width="1.3" />
<path d="M300.30,727.00 l11.0,-5.2 v10.4 z" fill="#000"/>
<path d="M350.50,727.00 l-11.0,-5.2 v10.4 z" fill="#000"/>
<clipPath id="c6"><rect x="137.90" y="717.40" width="375.20" height="230.80"/></clipPath>
<line x1="137.90" y1="933.60" x2="513.10" y2="933.60" stroke="#0000ff" stroke-width="3.4" stroke-dasharray="3.6 3.8" clip-path="url(#c6)"/>
<path d="M325.50,738.60 L324.00,741.90 L323.00,745.42 L322.00,748.92 L321.00,752.41 L320.00,755.87 L319.00,759.31 L318.00,762.73 L317.00,766.13 L316.00,769.50 L315.00,772.85 L314.00,776.17 L313.00,779.46 L312.00,782.72 L311.00,785.95 L310.00,789.14 L309.00,792.31 L308.00,795.44 L307.00,798.54 L306.00,801.60 L305.00,804.63 L304.00,807.62 L303.00,810.57 L302.00,813.49 L301.00,816.37 L300.00,819.20 L299.00,822.00 L298.00,824.76 L297.00,827.48 L296.00,830.15 L295.00,832.79 L294.00,835.38 L293.00,837.93 L292.00,840.44 L291.00,842.91 L290.00,845.33 L289.00,847.71 L288.00,850.05 L287.00,852.35 L286.00,854.61 L285.00,856.82 L284.00,858.99 L283.00,861.11 L282.00,863.20 L281.00,865.24 L280.00,867.24 L279.00,869.20 L278.00,871.12 L277.00,872.99 L276.00,874.83 L275.00,876.62 L274.00,878.38 L273.00,880.09 L272.00,881.76 L271.00,883.40 L270.00,884.99 L269.00,886.55 L268.00,888.07 L267.00,889.55 L266.00,891.00 L265.00,892.40 L264.00,893.77 L263.00,895.11 L262.00,896.41 L261.00,897.68 L260.00,898.91 L259.00,900.11 L258.00,901.27 L257.00,902.41 L256.00,903.51 L255.00,904.58 L254.00,905.62 L253.00,906.63 L252.00,907.60 L251.00,908.56 L250.00,909.48 L249.00,910.37 L248.00,911.24 L247.00,912.08 L246.00,912.89 L245.00,913.68 L244.00,914.44 L243.00,915.18 L242.00,915.90 L241.00,916.59 L240.00,917.26 L239.00,917.90 L238.00,918.53 L237.00,919.13 L236.00,919.71 L235.00,920.28 L234.00,920.82 L233.00,921.35 L232.00,921.85 L231.00,922.34 L230.00,922.81 L229.00,923.26 L228.00,923.70 L227.00,924.12 L226.00,924.53 L225.00,924.92 L224.00,925.29 L223.00,925.66 L222.00,926.00 L221.00,926.34 L220.00,926.66 L219.00,926.97 L218.00,927.27 L217.00,927.55 L216.00,927.83 L215.00,928.09 L214.00,928.34 L213.00,928.58 L212.00,928.81 L211.00,929.04 L210.00,929.25 L209.00,929.46 L208.00,929.65 L207.00,929.84 L206.00,930.02 L205.00,930.19 L204.00,930.36 L203.00,930.51 L202.00,930.66 L201.00,930.81 L200.00,930.94 L199.00,931.08 L198.00,931.20 L197.00,931.32 L196.00,931.44 L195.00,931.55 L194.00,931.65 L193.00,931.75 L192.00,931.84 L191.00,931.93 L190.00,932.02 L189.00,932.10 L188.00,932.18 L187.00,932.25 L186.00,932.33 L185.00,932.39 L184.00,932.46 L183.00,932.52 L182.00,932.58 L181.00,932.63 L180.00,932.68 L179.00,932.73 L178.00,932.78 L177.00,932.83 L176.00,932.87 L175.00,932.91 L174.00,932.95 L173.00,932.98 L172.00,933.02 L171.00,933.05 L170.00,933.08 L169.00,933.11 L168.00,933.14 L167.00,933.17 L166.00,933.19 L165.00,933.22 L164.00,933.24 L163.00,933.26 L162.00,933.28 L161.00,933.30 L160.00,933.32 L159.00,933.33 L158.00,933.35 L157.00,933.36 L156.00,933.38 L155.00,933.39 L154.00,933.40 L153.00,933.42 L152.00,933.43 L151.00,933.44 L150.00,933.45 L149.00,933.46 L148.00,933.47 L147.00,933.47 L146.00,933.48 L145.00,933.49 L144.00,933.50 L143.00,933.50 L142.00,933.51 L141.00,933.51 L140.00,933.52 L139.00,933.53 L138.00,933.53 L137.00,933.53 L136.00,933.54 L135.00,933.54 L134.00,933.55 L133.00,933.55 L132.00,933.55 L131.00,933.56 L130.00,933.56 L129.00,933.56 L128.00,933.56 L127.00,933.57 L126.00,933.57" fill="none" stroke="#0000ff" stroke-width="3.9" stroke-dasharray="12 10.5" stroke-dashoffset="1" stroke-linejoin="round" clip-path="url(#c6)"/>
<path d="M325.50,738.60 L327.00,741.90 L328.00,745.42 L329.00,748.92 L330.00,752.41 L331.00,755.87 L332.00,759.31 L333.00,762.73 L334.00,766.13 L335.00,769.50 L336.00,772.85 L337.00,776.17 L338.00,779.46 L339.00,782.72 L340.00,785.95 L341.00,789.14 L342.00,792.31 L343.00,795.44 L344.00,798.54 L345.00,801.60 L346.00,804.63 L347.00,807.62 L348.00,810.57 L349.00,813.49 L350.00,816.37 L351.00,819.20 L352.00,822.00 L353.00,824.76 L354.00,827.48 L355.00,830.15 L356.00,832.79 L357.00,835.38 L358.00,837.93 L359.00,840.44 L360.00,842.91 L361.00,845.33 L362.00,847.71 L363.00,850.05 L364.00,852.35 L365.00,854.61 L366.00,856.82 L367.00,858.99 L368.00,861.11 L369.00,863.20 L370.00,865.24 L371.00,867.24 L372.00,869.20 L373.00,871.12 L374.00,872.99 L375.00,874.83 L376.00,876.62 L377.00,878.38 L378.00,880.09 L379.00,881.76 L380.00,883.40 L381.00,884.99 L382.00,886.55 L383.00,888.07 L384.00,889.55 L385.00,891.00 L386.00,892.40 L387.00,893.77 L388.00,895.11 L389.00,896.41 L390.00,897.68 L391.00,898.91 L392.00,900.11 L393.00,901.27 L394.00,902.41 L395.00,903.51 L396.00,904.58 L397.00,905.62 L398.00,906.63 L399.00,907.60 L400.00,908.56 L401.00,909.48 L402.00,910.37 L403.00,911.24 L404.00,912.08 L405.00,912.89 L406.00,913.68 L407.00,914.44 L408.00,915.18 L409.00,915.90 L410.00,916.59 L411.00,917.26 L412.00,917.90 L413.00,918.53 L414.00,919.13 L415.00,919.71 L416.00,920.28 L417.00,920.82 L418.00,921.35 L419.00,921.85 L420.00,922.34 L421.00,922.81 L422.00,923.26 L423.00,923.70 L424.00,924.12 L425.00,924.53 L426.00,924.92 L427.00,925.29 L428.00,925.66 L429.00,926.00 L430.00,926.34 L431.00,926.66 L432.00,926.97 L433.00,927.27 L434.00,927.55 L435.00,927.83 L436.00,928.09 L437.00,928.34 L438.00,928.58 L439.00,928.81 L440.00,929.04 L441.00,929.25 L442.00,929.46 L443.00,929.65 L444.00,929.84 L445.00,930.02 L446.00,930.19 L447.00,930.36 L448.00,930.51 L449.00,930.66 L450.00,930.81 L451.00,930.94 L452.00,931.08 L453.00,931.20 L454.00,931.32 L455.00,931.44 L456.00,931.55 L457.00,931.65 L458.00,931.75 L459.00,931.84 L460.00,931.93 L461.00,932.02 L462.00,932.10 L463.00,932.18 L464.00,932.25 L465.00,932.33 L466.00,932.39 L467.00,932.46 L468.00,932.52 L469.00,932.58 L470.00,932.63 L471.00,932.68 L472.00,932.73 L473.00,932.78 L474.00,932.83 L475.00,932.87 L476.00,932.91 L477.00,932.95 L478.00,932.98 L479.00,933.02 L480.00,933.05 L481.00,933.08 L482.00,933.11 L483.00,933.14 L484.00,933.17 L485.00,933.19 L486.00,933.22 L487.00,933.24 L488.00,933.26 L489.00,933.28 L490.00,933.30 L491.00,933.32 L492.00,933.33 L493.00,933.35 L494.00,933.36 L495.00,933.38 L496.00,933.39 L497.00,933.40 L498.00,933.42 L499.00,933.43 L500.00,933.44 L501.00,933.45 L502.00,933.46 L503.00,933.47 L504.00,933.47 L505.00,933.48 L506.00,933.49 L507.00,933.50 L508.00,933.50 L509.00,933.51 L510.00,933.51 L511.00,933.52 L512.00,933.53 L513.00,933.53 L514.00,933.53 L515.00,933.54 L516.00,933.54 L517.00,933.55 L518.00,933.55 L519.00,933.55 L520.00,933.56 L521.00,933.56 L522.00,933.56 L523.00,933.56 L524.00,933.57 L525.00,933.57" fill="none" stroke="#0000ff" stroke-width="3.9" stroke-dasharray="12 10.5" stroke-dashoffset="1" stroke-linejoin="round" clip-path="url(#c6)"/>
<path d="M126.50,933.59 L127.50,933.59 L128.50,933.59 L129.50,933.59 L130.50,933.59 L131.50,933.59 L132.50,933.59 L133.50,933.59 L134.50,933.59 L135.50,933.59 L136.50,933.59 L137.50,933.59 L138.50,933.58 L139.50,933.58 L140.50,933.58 L141.50,933.58 L142.50,933.58 L143.50,933.58 L144.50,933.58 L145.50,933.58 L146.50,933.57 L147.50,933.57 L148.50,933.57 L149.50,933.57 L150.50,933.57 L151.50,933.56 L152.50,933.56 L153.50,933.56 L154.50,933.56 L155.50,933.55 L156.50,933.55 L157.50,933.55 L158.50,933.54 L159.50,933.54 L160.50,933.54 L161.50,933.53 L162.50,933.53 L163.50,933.52 L164.50,933.52 L165.50,933.51 L166.50,933.51 L167.50,933.50 L168.50,933.50 L169.50,933.49 L170.50,933.48 L171.50,933.47 L172.50,933.47 L173.50,933.46 L174.50,933.45 L175.50,933.44 L176.50,933.43 L177.50,933.42 L178.50,933.41 L179.50,933.40 L180.50,933.39 L181.50,933.37 L182.50,933.36 L183.50,933.35 L184.50,933.33 L185.50,933.31 L186.50,933.30 L187.50,933.28 L188.50,933.26 L189.50,933.24 L190.50,933.22 L191.50,933.20 L192.50,933.17 L193.50,933.15 L194.50,933.12 L195.50,933.10 L196.50,933.07 L197.50,933.04 L198.50,933.00 L199.50,932.97 L200.50,932.93 L201.50,932.90 L202.50,932.86 L203.50,932.81 L204.50,932.77 L205.50,932.72 L206.50,932.68 L207.50,932.63 L208.50,932.57 L209.50,932.51 L210.50,932.46 L211.50,932.39 L212.50,932.33 L213.50,932.26 L214.50,932.19 L215.50,932.11 L216.50,932.03 L217.50,931.95 L218.50,931.86 L219.50,931.77 L220.50,931.67 L221.50,931.57 L222.50,931.46 L223.50,931.35 L224.50,931.23 L225.50,931.11 L226.50,930.98 L227.50,930.84 L228.50,930.70 L229.50,930.55 L230.50,930.40 L231.50,930.23 L232.50,930.06 L233.50,929.88 L234.50,929.70 L235.50,929.50 L236.50,929.30 L237.50,929.08 L238.50,928.86 L239.50,928.62 L240.50,928.38 L241.50,928.12 L242.50,927.85 L243.50,927.57 L244.50,927.28 L245.50,926.98 L246.50,926.66 L247.50,926.33 L248.50,925.98 L249.50,925.62 L250.50,925.24 L251.50,924.84 L252.50,924.43 L253.50,924.00 L254.50,923.55 L255.50,923.09 L256.50,922.60 L257.50,922.09 L258.50,921.57 L259.50,921.02 L260.50,920.44 L261.50,919.85 L262.50,919.23 L263.50,918.58 L264.50,917.91 L265.50,917.21 L266.50,916.48 L267.50,915.72 L268.50,914.93 L269.50,914.11 L270.50,913.26 L271.50,912.38 L272.50,911.46 L273.50,910.50 L274.50,909.51 L275.50,908.48 L276.50,907.41 L277.50,906.30 L278.50,905.14 L279.50,903.95 L280.50,902.71 L281.50,901.42 L282.50,900.08 L283.50,898.70 L284.50,897.26 L285.50,895.78 L286.50,894.23 L287.50,892.64 L288.50,890.98 L289.50,889.27 L290.50,887.49 L291.50,885.66 L292.50,883.75 L293.50,881.79 L294.50,879.75 L295.50,877.64 L296.50,875.47 L297.50,873.21 L298.50,870.89 L299.50,868.48 L300.50,865.99 L301.50,863.42 L302.50,860.76 L303.50,858.02 L304.50,855.19 L305.50,852.27 L306.50,849.25 L307.50,846.14 L308.50,842.92 L309.50,839.61 L310.50,836.19 L311.50,832.66 L312.50,829.03 L313.50,825.28 L314.50,821.42 L315.50,817.44 L316.50,813.34 L317.50,809.12 L318.50,804.78 L319.50,800.30 L320.50,795.70 L321.50,790.96 L322.50,786.08 L325.50,776.60 L328.50,786.08 L329.50,790.96 L330.50,795.70 L331.50,800.30 L332.50,804.78 L333.50,809.12 L334.50,813.34 L335.50,817.44 L336.50,821.42 L337.50,825.28 L338.50,829.03 L339.50,832.66 L340.50,836.19 L341.50,839.61 L342.50,842.92 L343.50,846.14 L344.50,849.25 L345.50,852.27 L346.50,855.19 L347.50,858.02 L348.50,860.76 L349.50,863.42 L350.50,865.99 L351.50,868.48 L352.50,870.89 L353.50,873.21 L354.50,875.47 L355.50,877.64 L356.50,879.75 L357.50,881.79 L358.50,883.75 L359.50,885.66 L360.50,887.49 L361.50,889.27 L362.50,890.98 L363.50,892.64 L364.50,894.23 L365.50,895.78 L366.50,897.26 L367.50,898.70 L368.50,900.08 L369.50,901.42 L370.50,902.71 L371.50,903.95 L372.50,905.14 L373.50,906.30 L374.50,907.41 L375.50,908.48 L376.50,909.51 L377.50,910.50 L378.50,911.46 L379.50,912.38 L380.50,913.26 L381.50,914.11 L382.50,914.93 L383.50,915.72 L384.50,916.48 L385.50,917.21 L386.50,917.91 L387.50,918.58 L388.50,919.23 L389.50,919.85 L390.50,920.44 L391.50,921.02 L392.50,921.57 L393.50,922.09 L394.50,922.60 L395.50,923.09 L396.50,923.55 L397.50,924.00 L398.50,924.43 L399.50,924.84 L400.50,925.24 L401.50,925.62 L402.50,925.98 L403.50,926.33 L404.50,926.66 L405.50,926.98 L406.50,927.28 L407.50,927.57 L408.50,927.85 L409.50,928.12 L410.50,928.38 L411.50,928.62 L412.50,928.86 L413.50,929.08 L414.50,929.30 L415.50,929.50 L416.50,929.70 L417.50,929.88 L418.50,930.06 L419.50,930.23 L420.50,930.40 L421.50,930.55 L422.50,930.70 L423.50,930.84 L424.50,930.98 L425.50,931.11 L426.50,931.23 L427.50,931.35 L428.50,931.46 L429.50,931.57 L430.50,931.67 L431.50,931.77 L432.50,931.86 L433.50,931.95 L434.50,932.03 L435.50,932.11 L436.50,932.19 L437.50,932.26 L438.50,932.33 L439.50,932.39 L440.50,932.46 L441.50,932.51 L442.50,932.57 L443.50,932.63 L444.50,932.68 L445.50,932.72 L446.50,932.77 L447.50,932.81 L448.50,932.86 L449.50,932.90 L450.50,932.93 L451.50,932.97 L452.50,933.00 L453.50,933.04 L454.50,933.07 L455.50,933.10 L456.50,933.12 L457.50,933.15 L458.50,933.17 L459.50,933.20 L460.50,933.22 L461.50,933.24 L462.50,933.26 L463.50,933.28 L464.50,933.30 L465.50,933.31 L466.50,933.33 L467.50,933.35 L468.50,933.36 L469.50,933.37 L470.50,933.39 L471.50,933.40 L472.50,933.41 L473.50,933.42 L474.50,933.43 L475.50,933.44 L476.50,933.45 L477.50,933.46 L478.50,933.47 L479.50,933.47 L480.50,933.48 L481.50,933.49 L482.50,933.50 L483.50,933.50 L484.50,933.51 L485.50,933.51 L486.50,933.52 L487.50,933.52 L488.50,933.53 L489.50,933.53 L490.50,933.54 L491.50,933.54 L492.50,933.54 L493.50,933.55 L494.50,933.55 L495.50,933.55 L496.50,933.56 L497.50,933.56 L498.50,933.56 L499.50,933.56 L500.50,933.57 L501.50,933.57 L502.50,933.57 L503.50,933.57 L504.50,933.57 L505.50,933.58 L506.50,933.58 L507.50,933.58 L508.50,933.58 L509.50,933.58 L510.50,933.58 L511.50,933.58 L512.50,933.58 L513.50,933.59 L514.50,933.59 L515.50,933.59 L516.50,933.59 L517.50,933.59 L518.50,933.59 L519.50,933.59 L520.50,933.59 L521.50,933.59 L522.50,933.59 L523.50,933.59 L524.50,933.59" fill="none" stroke="#0000ff" stroke-width="3.9" stroke-linejoin="miter" stroke-miterlimit="10" clip-path="url(#c6)"/>
<line x1="231.60" y1="948.20" x2="231.60" y2="944.60" stroke="#333" stroke-width="0.8" />
<line x1="325.50" y1="948.20" x2="325.50" y2="944.60" stroke="#333" stroke-width="0.8" />
<line x1="419.40" y1="948.20" x2="419.40" y2="944.60" stroke="#333" stroke-width="0.8" />
<line x1="137.90" y1="825.40" x2="141.50" y2="825.40" stroke="#333" stroke-width="0.8" />
<rect x="137.90" y="717.40" width="375.20" height="230.80" fill="none" stroke="#000" stroke-width="1.4" />
<text transform="matrix(45.6604 0 0 36.2466 141.646 751.279)" font-family='"Liberation Sans", sans-serif' font-style="normal" font-size="1" fill="#000">(</text>
<text transform="matrix(38.2932 0 0 37.1968 160.745 752.098)" font-family='"Liberation Sans", sans-serif' font-style="normal" font-size="1" fill="#000" stroke="#000" stroke-width="0.007">b</text>
<text transform="matrix(26.8657 0 0 23.1904 184.945 758.638)" font-family='"Liberation Sans", sans-serif' font-style="normal" font-size="1" fill="#000" stroke="#000" stroke-width="0.014">2</text>
<text transform="matrix(45.2830 0 0 36.2466 202.860 751.279)" font-family='"Liberation Sans", sans-serif' font-style="normal" font-size="1" fill="#000">)</text>
<rect x="358.00" y="720.50" width="5.00" height="25.90" fill="#000" stroke="none" stroke-width="1.0" />
<text transform="matrix(39.4065 0 0 33.8351 366.049 765.362)" font-family='"Liberation Sans", sans-serif' font-style="normal" font-size="1" fill="#000">B=5</text>
<rect x="595.00" y="712.80" width="187.60" height="232.00" fill="#ffccff" stroke="none" stroke-width="1.0" />
<rect x="782.60" y="712.80" width="188.00" height="232.00" fill="#ccffff" stroke="none" stroke-width="1.0" />
<line x1="755.80" y1="712.80" x2="755.80" y2="944.80" stroke="rgba(0,0,0,0.45)" stroke-width="1.45" />
<line x1="809.60" y1="712.80" x2="809.60" y2="944.80" stroke="rgba(0,0,0,0.45)" stroke-width="1.45" />
<line x1="763.80" y1="726.90" x2="801.90" y2="726.90" stroke="#000" stroke-width="1.3" />
<path d="M757.80,726.90 l11.0,-5.2 v10.4 z" fill="#000"/>
<path d="M807.90,726.90 l-11.0,-5.2 v10.4 z" fill="#000"/>
<clipPath id="c7"><rect x="595.00" y="712.80" width="375.60" height="232.00"/></clipPath>
<line x1="595.00" y1="930.40" x2="970.60" y2="930.40" stroke="#0000ff" stroke-width="4.2" clip-path="url(#c7)"/>
<path d="M766.00,923.12 L765.50,922.95 L765.00,922.78 L764.50,922.61 L764.00,922.43 L763.50,922.25 L763.00,922.07 L762.50,921.88 L762.00,921.69 L761.50,921.49 L761.00,921.30 L760.50,921.10 L760.00,920.89 L759.50,920.68 L759.00,920.47 L758.50,920.26 L758.00,920.04 L757.50,919.81 L757.00,919.59 L756.50,919.36 L756.00,919.12 L755.50,918.88 L755.00,918.64 L754.50,918.39 L754.00,918.14 L753.50,917.88 L753.00,917.62 L752.50,917.36 L752.00,917.09 L751.50,916.82 L751.00,916.54 L750.50,916.26 L750.00,915.97 L749.50,915.68 L749.00,915.38 L748.50,915.08 L748.00,914.78 L747.50,914.47 L747.00,914.15 L746.50,913.83 L746.00,913.51 L745.50,913.18 L745.00,912.84 L744.50,912.50 L744.00,912.16 L743.50,911.81 L743.00,911.45 L742.50,911.09 L742.00,910.73 L741.50,910.36 L741.00,909.98 L740.50,909.60 L740.00,909.22 L739.50,908.82 L739.00,908.43 L738.50,908.02 L738.00,907.62 L737.50,907.20 L737.00,906.78 L736.50,906.36 L736.00,905.93 L735.50,905.49 L735.00,905.05 L734.50,904.60 L734.00,904.15 L733.50,903.69 L733.00,903.23 L732.50,902.76 L732.00,902.28 L731.50,901.80 L731.00,901.31 L730.50,900.82 L730.00,900.32 L729.50,899.81 L729.00,899.30 L728.50,898.78 L728.00,898.26 L727.50,897.73 L727.00,897.20 L726.50,896.66 L726.00,896.11 L725.50,895.56 L725.00,895.00 L724.50,894.43 L724.00,893.86 L723.50,893.29 L723.00,892.70 L722.50,892.11 L722.00,891.52 L721.50,890.92 L721.00,890.31 L720.50,889.70 L720.00,889.08 L719.50,888.46 L719.00,887.83 L718.50,887.19 L718.00,886.55 L717.50,885.90 L717.00,885.25 L716.50,884.59 L716.00,883.93 L715.50,883.26 L715.00,882.58 L714.50,881.90 L714.00,881.21 L713.50,880.52 L713.00,879.82 L712.50,879.11 L712.00,878.40 L711.50,877.69 L711.00,876.97 L710.50,876.24 L710.00,875.51 L709.50,874.77 L709.00,874.03 L708.50,873.29 L708.00,872.53 L707.50,871.78 L707.00,871.01 L706.50,870.25 L706.00,869.48 L705.50,868.70 L705.00,867.92 L704.50,867.13 L704.00,866.34 L703.50,865.55 L703.00,864.75 L702.50,863.95 L702.00,863.14 L701.50,862.33 L701.00,861.51 L700.50,860.69 L700.00,859.87 L699.50,859.04 L699.00,858.21 L698.50,857.37 L698.00,856.54 L697.50,855.69 L697.00,854.85 L696.50,854.00 L696.00,853.15 L695.50,852.30 L695.00,851.44 L694.50,850.58 L694.00,849.72 L693.50,848.85 L693.00,847.98 L692.50,847.11 L692.00,846.24 L691.50,845.37 L691.00,844.49 L690.50,843.61 L690.00,842.74 L689.50,841.85 L689.00,840.97 L688.50,840.09 L688.00,839.20 L687.50,838.32 L687.00,837.43 L686.50,836.54 L686.00,835.66 L685.50,834.77 L685.00,833.88 L684.50,832.99 L684.00,832.10 L683.50,831.21 L683.00,830.33 L682.50,829.44 L682.00,828.55 L681.50,827.66 L681.00,826.78 L680.50,825.89 L680.00,825.01 L679.50,824.13 L679.00,823.25 L678.50,822.37 L678.00,821.49 L677.50,820.62 L677.00,819.75 L676.50,818.88 L676.00,818.01 L675.50,817.14 L675.00,816.28 L674.50,815.42 L674.00,814.57 L673.50,813.71 L673.00,812.86 L672.50,812.02 L672.00,811.18 L671.50,810.34 L671.00,809.50 L670.50,808.68 L670.00,807.85 L669.50,807.03 L669.00,806.22 L668.50,805.41 L668.00,804.60 L667.50,803.80 L667.00,803.01 L666.50,802.22 L666.00,801.44 L665.50,800.66 L665.00,799.89 L664.50,799.13 L664.00,798.37 L663.50,797.62 L663.00,796.87 L662.50,796.14 L662.00,795.41 L661.50,794.69 L661.00,793.97 L660.50,793.26 L660.00,792.57 L659.50,791.87 L659.00,791.19 L658.50,790.52 L658.00,789.85 L657.50,789.19 L657.00,788.54 L656.50,787.90 L656.00,787.27 L655.50,786.65 L655.00,786.04 L654.50,785.43 L654.00,784.84 L653.50,784.25 L653.00,783.68 L652.50,783.12 L652.00,782.56 L651.50,782.02 L651.00,781.48 L650.50,780.96 L650.00,780.45 L649.50,779.95 L649.00,779.46 L648.50,778.98 L648.00,778.51 L647.50,778.05 L647.00,777.61 L646.50,777.17 L646.00,776.75 L645.50,776.34 L645.00,775.94 L644.50,775.55 L644.00,775.18 L643.50,774.81 L643.00,774.46 L642.50,774.12 L642.00,773.79 L641.50,773.48 L641.00,773.18 L640.50,772.89 L640.00,772.61 L639.50,772.35 L639.00,772.10 L638.50,771.86 L638.00,771.63 L637.50,771.42 L637.00,771.22 L636.50,771.03 L636.00,770.86 L635.50,770.70 L635.00,770.55 L634.50,770.41 L634.00,770.29 L633.50,770.19 L633.00,770.09 L632.50,770.01 L632.00,769.94 L631.50,769.89 L631.00,769.85 L630.50,769.82 L630.00,769.80 L629.50,769.80 L629.00,769.81 L628.50,769.84 L628.00,769.88 L627.50,769.93 L627.00,770.00 L626.50,770.08 L626.00,770.18 L625.50,770.29 L625.00,770.41 L624.50,770.54 L624.00,770.69 L623.50,770.86 L623.00,771.03 L622.50,771.22 L622.00,771.42 L621.50,771.64 L621.00,771.87 L620.50,772.11 L620.00,772.37 L619.50,772.64 L619.00,772.92 L618.50,773.22 L618.00,773.53 L617.50,773.85 L617.00,774.18 L616.50,774.53 L616.00,774.89 L615.50,775.26 L615.00,775.64 L614.50,776.04 L614.00,776.45 L613.50,776.87 L613.00,777.30 L612.50,777.74 L612.00,778.20 L611.50,778.67 L611.00,779.15 L610.50,779.64 L610.00,780.14 L609.50,780.65 L609.00,781.18 L608.50,781.71 L608.00,782.26 L607.50,782.81 L607.00,783.38 L606.50,783.96 L606.00,784.55 L605.50,785.14 L605.00,785.75 L604.50,786.37 L604.00,787.00 L603.50,787.63 L603.00,788.28 L602.50,788.93 L602.00,789.60 L601.50,790.27 L601.00,790.95 L600.50,791.64 L600.00,792.34 L599.50,793.05 L599.00,793.77 L598.50,794.49 L598.00,795.22 L597.50,795.96 L597.00,796.70 L596.50,797.46 L596.00,798.22 L595.50,798.98 L595.00,799.76 L594.50,800.54 L594.00,801.33 L593.50,802.12 L593.00,802.92 L592.50,803.72" fill="none" stroke="#0000ff" stroke-width="4.0" stroke-linejoin="round" stroke-dasharray="11.95 10.39" clip-path="url(#c7)"/>
<path d="M748,931.5 L748,928.4 L778,927.2 L779.5,925.2 L788,926.4 L798,928.4 L798,931.5 z" fill="#0000ff"/>
<line x1="689.10" y1="944.80" x2="689.10" y2="941.20" stroke="#333" stroke-width="0.8" />
<line x1="783.00" y1="944.80" x2="783.00" y2="941.20" stroke="#333" stroke-width="0.8" />
<line x1="876.90" y1="944.80" x2="876.90" y2="941.20" stroke="#333" stroke-width="0.8" />
<line x1="595.00" y1="821.70" x2="598.60" y2="821.70" stroke="#333" stroke-width="0.8" />
<rect x="595.00" y="712.80" width="375.60" height="232.00" fill="none" stroke="#000" stroke-width="1.4" />
<text transform="matrix(43.7736 0 0 36.5684 601.264 744.012)" font-family='"Liberation Sans", sans-serif' font-style="normal" font-size="1" fill="#000">(</text>
<text transform="matrix(38.2932 0 0 36.5229 620.245 744.107)" font-family='"Liberation Sans", sans-serif' font-style="normal" font-size="1" fill="#000" stroke="#000" stroke-width="0.007">b</text>
<text transform="matrix(25.5624 0 0 23.1462 644.920 751.407)" font-family='"Liberation Sans", sans-serif' font-style="normal" font-size="1" fill="#000" stroke="#000" stroke-width="0.014">3</text>
<text transform="matrix(45.2830 0 0 36.5684 662.360 744.012)" font-family='"Liberation Sans", sans-serif' font-style="normal" font-size="1" fill="#000">)</text>
<rect x="817.40" y="718.40" width="4.50" height="25.30" fill="#000" stroke="none" stroke-width="1.0" />
<text transform="matrix(39.5252 0 0 34.8387 824.339 763.352)" font-family='"Liberation Sans", sans-serif' font-style="normal" font-size="1" fill="#000">B=5</text>
<rect x="817.10" y="793.40" width="139.00" height="89.00" fill="#fff" stroke="none" stroke-width="1.0" />
<rect x="819.10" y="795.40" width="66.90" height="85.00" fill="#ffccff" stroke="none" stroke-width="1.0" />
<rect x="886.00" y="795.40" width="68.10" height="85.00" fill="#ccffff" stroke="none" stroke-width="1.0" />
<clipPath id="c8"><rect x="819.10" y="795.40" width="135.00" height="85.00"/></clipPath>
<path d="M819.10,875.60 L819.44,875.60 L819.77,875.60 L820.11,875.60 L820.44,875.60 L820.78,875.60 L821.12,875.60 L821.45,875.60 L821.79,875.60 L822.13,875.60 L822.46,875.60 L822.80,875.60 L823.13,875.60 L823.47,875.60 L823.81,875.60 L824.14,875.60 L824.48,875.60 L824.82,875.60 L825.15,875.60 L825.49,875.60 L825.82,875.60 L826.16,875.60 L826.50,875.60 L826.83,875.60 L827.17,875.60 L827.50,875.60 L827.84,875.60 L828.18,875.60 L828.51,875.60 L828.85,875.60 L829.19,875.60 L829.52,875.60 L829.86,875.59 L830.19,875.59 L830.53,875.59 L830.87,875.59 L831.20,875.59 L831.54,875.59 L831.87,875.58 L832.21,875.58 L832.55,875.58 L832.88,875.57 L833.22,875.57 L833.56,875.56 L833.89,875.56 L834.23,875.55 L834.56,875.54 L834.90,875.53 L835.24,875.52 L835.57,875.50 L835.91,875.49 L836.25,875.47 L836.58,875.45 L836.92,875.43 L837.25,875.40 L837.59,875.37 L837.93,875.33 L838.26,875.30 L838.60,875.25 L838.93,875.20 L839.27,875.14 L839.61,875.08 L839.94,875.01 L840.28,874.92 L840.62,874.83 L840.95,874.73 L841.29,874.62 L841.62,874.49 L841.96,874.35 L842.30,874.20 L842.63,874.03 L842.97,873.84 L843.31,873.63 L843.64,873.40 L843.98,873.15 L844.31,872.87 L844.65,872.57 L844.99,872.24 L845.32,871.88 L845.66,871.50 L845.99,871.08 L846.33,870.62 L846.67,870.14 L847.00,869.61 L847.34,869.04 L847.68,868.44 L848.01,867.79 L848.35,867.10 L848.68,866.37 L849.02,865.59 L849.36,864.76 L849.69,863.89 L850.03,862.97 L850.36,862.00 L850.70,860.99 L851.04,859.93 L851.37,858.82 L851.71,857.66 L852.05,856.46 L852.38,855.22 L852.72,853.93 L853.05,852.61 L853.39,851.25 L853.73,849.85 L854.06,848.43 L854.40,846.97 L854.74,845.50 L855.07,844.00 L855.41,842.49 L855.74,840.98 L856.08,839.45 L856.42,837.93 L856.75,836.42 L857.09,834.92 L857.42,833.43 L857.76,831.98 L858.10,830.55 L858.43,829.16 L858.77,827.82 L859.11,826.52 L859.44,825.29 L859.78,824.11 L860.11,823.00 L860.45,821.97 L860.79,821.01 L861.12,820.14 L861.46,819.35 L861.79,818.66 L862.13,818.06 L862.47,817.56 L862.80,817.17 L863.14,816.87 L863.48,816.68 L863.81,816.60 L864.15,816.63 L864.48,816.76 L864.82,817.00 L865.16,817.34 L865.49,817.79 L865.83,818.33 L866.17,818.98 L866.50,819.71 L866.84,820.54 L867.17,821.45 L867.51,822.45 L867.85,823.52 L868.18,824.66 L868.52,825.87 L868.85,827.13 L869.19,828.45 L869.53,829.82 L869.86,831.23 L870.20,832.67 L870.54,834.14 L870.87,835.63 L871.21,837.14 L871.54,838.66 L871.88,840.18 L872.22,841.70 L872.55,843.21 L872.89,844.72 L873.23,846.20 L873.56,847.67 L873.90,849.11 L874.23,850.52 L874.57,851.90 L874.91,853.24 L875.24,854.55 L875.58,855.82 L875.91,857.04 L876.25,858.22 L876.59,859.35 L876.92,860.44 L877.26,861.48 L877.60,862.47 L877.93,863.42 L878.27,864.31 L878.60,865.16 L878.94,865.97 L879.28,866.72 L879.61,867.44 L879.95,868.11 L880.28,868.73 L880.62,869.32 L880.96,869.87 L881.29,870.37 L881.63,870.85 L881.97,871.28 L882.30,871.69 L882.64,872.06 L882.97,872.40 L883.31,872.72 L883.65,873.01 L883.98,873.27 L884.32,873.51 L884.66,873.73 L884.99,873.93 L885.33,874.11 L885.66,874.27 L886.00,874.42" fill="none" stroke="#0000ff" stroke-width="1.5" stroke-linejoin="round" stroke-dasharray="4.6 4.0" clip-path="url(#c8)"/>
<line x1="819.10" y1="875.60" x2="954.10" y2="875.60" stroke="#0000ff" stroke-width="1.4" />
<rect x="819.10" y="795.40" width="135.00" height="85.00" fill="none" stroke="#000" stroke-width="1.8" />
<text transform="matrix(39.0805 0 0 30.8127 762.437 805.992)" font-family='"Liberation Sans", sans-serif' font-style="normal" font-size="1" fill="#000">0.3</text>
<text transform="matrix(37.2775 0 0 30.6714 796.209 884.893)" font-family='"Liberation Sans", sans-serif' font-style="normal" font-size="1" fill="#000">0</text>
<text transform="matrix(39.5822 0 0 32.2261 768.719 907.678)" font-family='"Liberation Sans", sans-serif' font-style="normal" font-size="1" fill="#000">-100</text>
<text transform="matrix(38.1320 0 0 32.2261 918.540 906.478)" font-family='"Liberation Sans", sans-serif' font-style="normal" font-size="1" fill="#000">100</text>
<text transform="matrix(43.3716 0 0 40.1413 76.165 468.799)" font-family='"Liberation Sans", sans-serif' font-style="normal" font-size="1" fill="#000">0.3</text>
<text transform="matrix(43.2752 0 0 39.7173 51.769 575.703)" font-family='"Liberation Sans", sans-serif' font-style="normal" font-size="1" fill="#000">0.15</text>
<text transform="matrix(40.8377 0 0 40.1413 113.866 684.299)" font-family='"Liberation Sans", sans-serif' font-style="normal" font-size="1" fill="#000">0</text>
<text transform="matrix(43.2184 0 0 39.7173 75.971 729.103)" font-family='"Liberation Sans", sans-serif' font-style="normal" font-size="1" fill="#000">0.3</text>
<text transform="matrix(43.6510 0 0 40.1413 50.754 836.999)" font-family='"Liberation Sans", sans-serif' font-style="normal" font-size="1" fill="#000">0.15</text>
<text transform="matrix(40.2094 0 0 39.7173 113.892 945.003)" font-family='"Liberation Sans", sans-serif' font-style="normal" font-size="1" fill="#000">0</text>
<text transform="matrix(43.3824 0 0 38.1625 98.048 980.618)" font-family='"Liberation Sans", sans-serif' font-style="normal" font-size="1" fill="#000">-40</text>
<text transform="matrix(44.2647 0 0 38.1625 193.308 980.618)" font-family='"Liberation Sans", sans-serif' font-style="normal" font-size="1" fill="#000">-20</text>
<text transform="matrix(41.0471 0 0 39.0106 314.658 980.810)" font-family='"Liberation Sans", sans-serif' font-style="normal" font-size="1" fill="#000">0</text>
<text transform="matrix(41.6626 0 0 38.1625 393.217 980.618)" font-family='"Liberation Sans", sans-serif' font-style="normal" font-size="1" fill="#000">20</text>
<text transform="matrix(41.5238 0 0 38.1625 486.666 980.618)" font-family='"Liberation Sans", sans-serif' font-style="normal" font-size="1" fill="#000">40</text>
<text transform="matrix(31.0132 0 0 32.6066 266.741 1017.200)" font-family='"Liberation Sans", sans-serif' font-style="italic" font-size="1" fill="#000">x</text>
<text transform="matrix(54.2857 0 0 37.4795 294.864 1018.198)" font-family='"Liberation Sans", sans-serif' font-style="normal" font-size="1" fill="#000" stroke="#fff" stroke-width="0.02">(</text>
<text transform="matrix(39.1698 0 0 34.0465 313.915 1017.200)" font-family='"Liberation Sans", sans-serif' font-style="italic" font-size="1" fill="#000">nm</text>
<text transform="matrix(56.3265 0 0 37.4795 369.214 1018.198)" font-family='"Liberation Sans", sans-serif' font-style="normal" font-size="1" fill="#000" stroke="#fff" stroke-width="0.02">)</text>
<text transform="matrix(43.3824 0 0 38.1625 555.048 979.318)" font-family='"Liberation Sans", sans-serif' font-style="normal" font-size="1" fill="#000">-40</text>
<text transform="matrix(44.2647 0 0 38.1625 650.308 979.318)" font-family='"Liberation Sans", sans-serif' font-style="normal" font-size="1" fill="#000">-20</text>
<text transform="matrix(41.0471 0 0 39.0106 771.658 979.510)" font-family='"Liberation Sans", sans-serif' font-style="normal" font-size="1" fill="#000">0</text>
<text transform="matrix(42.2494 0 0 38.1625 851.188 979.318)" font-family='"Liberation Sans", sans-serif' font-style="normal" font-size="1" fill="#000">20</text>
<text transform="matrix(41.5238 0 0 38.1625 943.666 979.318)" font-family='"Liberation Sans", sans-serif' font-style="normal" font-size="1" fill="#000">40</text>
<text transform="matrix(31.0132 0 0 32.6066 724.741 1015.900)" font-family='"Liberation Sans", sans-serif' font-style="italic" font-size="1" fill="#000">x</text>
<text transform="matrix(54.2857 0 0 37.4795 752.664 1016.898)" font-family='"Liberation Sans", sans-serif' font-style="normal" font-size="1" fill="#000" stroke="#fff" stroke-width="0.02">(</text>
<text transform="matrix(38.5660 0 0 34.0465 772.525 1015.900)" font-family='"Liberation Sans", sans-serif' font-style="italic" font-size="1" fill="#000">nm</text>
<text transform="matrix(54.6939 0 0 37.4795 827.443 1016.898)" font-family='"Liberation Sans", sans-serif' font-style="normal" font-size="1" fill="#000" stroke="#fff" stroke-width="0.02">)</text>
<text transform="matrix(0 -54.1254 46.0933 0 39.820 880.405)" font-family='"Liberation Serif", serif' font-style="italic" font-size="1" fill="#000" stroke="#fff" stroke-width="0.018">ϕ</text>
<text transform="matrix(0 -38.3099 32.6087 0 23.037 852.354)" font-family='"Liberation Serif", serif' font-style="italic" font-size="1" fill="#000" stroke="#fff" stroke-width="0.01">τ</text>
<line x1="10.40" y1="814.40" x2="10.40" y2="834.90" stroke="#000" stroke-width="1.3" />
<line x1="15.90" y1="814.40" x2="15.90" y2="834.90" stroke="#000" stroke-width="1.3" />
<line x1="3.30" y1="802.10" x2="23.20" y2="802.10" stroke="#000" stroke-width="1.3" />
<line x1="13.20" y1="792.50" x2="13.20" y2="811.70" stroke="#000" stroke-width="1.3" />
<text transform="matrix(0 -38.8652 28.9394 0 20.500 789.101)" font-family='"Liberation Serif", serif' font-style="normal" font-size="1" fill="#000">1</text>
<text transform="matrix(0 -62.5000 39.1185 0 41.572 776.688)" font-family='"Liberation Sans", sans-serif' font-style="normal" font-size="1" fill="#000" stroke="#fff" stroke-width="0.025">(</text>
<text transform="matrix(0 -36.1233 36.2085 0 41.000 756.955)" font-family='"Liberation Sans", sans-serif' font-style="italic" font-size="1" fill="#000">x</text>
<text transform="matrix(0 -68.7500 39.1185 0 41.572 735.175)" font-family='"Liberation Sans", sans-serif' font-style="normal" font-size="1" fill="#000" stroke="#fff" stroke-width="0.025">)</text>
<text transform="matrix(0 -62.5000 39.1185 0 41.572 703.087)" font-family='"Liberation Sans", sans-serif' font-style="normal" font-size="1" fill="#000" stroke="#fff" stroke-width="0.025">(</text>
<text transform="matrix(0 -43.3962 35.5349 0 41.000 684.159)" font-family='"Liberation Sans", sans-serif' font-style="italic" font-size="1" fill="#000">nm</text>
<text transform="matrix(0 -32.2054 24.8980 0 28.451 622.191)" font-family='"Liberation Sans", sans-serif' font-style="italic" font-size="1" fill="#000">-1/2</text>
<text transform="matrix(0 -62.5000 39.1185 0 41.572 565.650)" font-family='"Liberation Sans", sans-serif' font-style="normal" font-size="1" fill="#000" stroke="#fff" stroke-width="0.025">)</text>
</svg>
</body></html>
